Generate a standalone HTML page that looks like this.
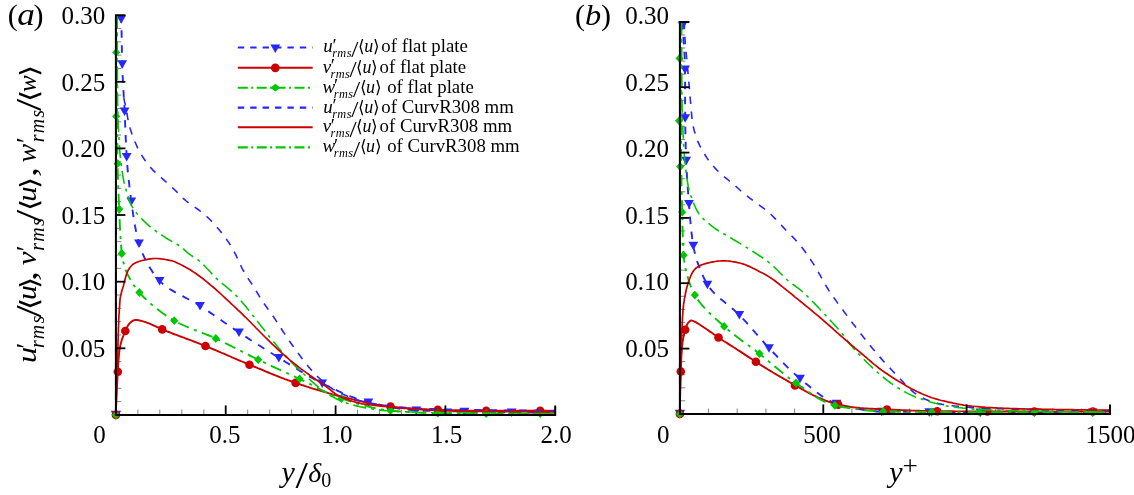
<!DOCTYPE html>
<html><head><meta charset="utf-8"><title>Figure</title>
<style>html,body{margin:0;padding:0;background:#fff;}body{width:1134px;height:495px;position:relative;overflow:hidden;font-family:"Liberation Serif",serif;}</style></head>
<body>
<svg width="1134" height="495" viewBox="0 0 1134 495" style="display:block;position:absolute;left:0;top:0">
<rect width="1134" height="495" fill="#fff"/>
<line x1="115.9" y1="401.6" x2="121.3" y2="401.6" stroke="#666" stroke-width="0.8"/>
<line x1="115.9" y1="388.3" x2="121.3" y2="388.3" stroke="#666" stroke-width="0.8"/>
<line x1="115.9" y1="374.9" x2="121.3" y2="374.9" stroke="#666" stroke-width="0.8"/>
<line x1="115.9" y1="361.6" x2="121.3" y2="361.6" stroke="#666" stroke-width="0.8"/>
<line x1="115.9" y1="335.0" x2="121.3" y2="335.0" stroke="#666" stroke-width="0.8"/>
<line x1="115.9" y1="321.6" x2="121.3" y2="321.6" stroke="#666" stroke-width="0.8"/>
<line x1="115.9" y1="308.3" x2="121.3" y2="308.3" stroke="#666" stroke-width="0.8"/>
<line x1="115.9" y1="295.0" x2="121.3" y2="295.0" stroke="#666" stroke-width="0.8"/>
<line x1="115.9" y1="268.3" x2="121.3" y2="268.3" stroke="#666" stroke-width="0.8"/>
<line x1="115.9" y1="255.0" x2="121.3" y2="255.0" stroke="#666" stroke-width="0.8"/>
<line x1="115.9" y1="241.7" x2="121.3" y2="241.7" stroke="#666" stroke-width="0.8"/>
<line x1="115.9" y1="228.4" x2="121.3" y2="228.4" stroke="#666" stroke-width="0.8"/>
<line x1="115.9" y1="201.7" x2="121.3" y2="201.7" stroke="#666" stroke-width="0.8"/>
<line x1="115.9" y1="188.4" x2="121.3" y2="188.4" stroke="#666" stroke-width="0.8"/>
<line x1="115.9" y1="175.1" x2="121.3" y2="175.1" stroke="#666" stroke-width="0.8"/>
<line x1="115.9" y1="161.8" x2="121.3" y2="161.8" stroke="#666" stroke-width="0.8"/>
<line x1="115.9" y1="135.1" x2="121.3" y2="135.1" stroke="#666" stroke-width="0.8"/>
<line x1="115.9" y1="121.8" x2="121.3" y2="121.8" stroke="#666" stroke-width="0.8"/>
<line x1="115.9" y1="108.5" x2="121.3" y2="108.5" stroke="#666" stroke-width="0.8"/>
<line x1="115.9" y1="95.1" x2="121.3" y2="95.1" stroke="#666" stroke-width="0.8"/>
<line x1="115.9" y1="68.5" x2="121.3" y2="68.5" stroke="#666" stroke-width="0.8"/>
<line x1="115.9" y1="55.2" x2="121.3" y2="55.2" stroke="#666" stroke-width="0.8"/>
<line x1="115.9" y1="41.8" x2="121.3" y2="41.8" stroke="#666" stroke-width="0.8"/>
<line x1="115.9" y1="28.5" x2="121.3" y2="28.5" stroke="#666" stroke-width="0.8"/>
<line x1="137.9" y1="414.9" x2="137.9" y2="409.5" stroke="#666" stroke-width="0.8"/>
<line x1="159.8" y1="414.9" x2="159.8" y2="409.5" stroke="#666" stroke-width="0.8"/>
<line x1="181.8" y1="414.9" x2="181.8" y2="409.5" stroke="#666" stroke-width="0.8"/>
<line x1="203.8" y1="414.9" x2="203.8" y2="409.5" stroke="#666" stroke-width="0.8"/>
<line x1="247.7" y1="414.9" x2="247.7" y2="409.5" stroke="#666" stroke-width="0.8"/>
<line x1="269.7" y1="414.9" x2="269.7" y2="409.5" stroke="#666" stroke-width="0.8"/>
<line x1="291.6" y1="414.9" x2="291.6" y2="409.5" stroke="#666" stroke-width="0.8"/>
<line x1="313.6" y1="414.9" x2="313.6" y2="409.5" stroke="#666" stroke-width="0.8"/>
<line x1="357.5" y1="414.9" x2="357.5" y2="409.5" stroke="#666" stroke-width="0.8"/>
<line x1="379.5" y1="414.9" x2="379.5" y2="409.5" stroke="#666" stroke-width="0.8"/>
<line x1="401.4" y1="414.9" x2="401.4" y2="409.5" stroke="#666" stroke-width="0.8"/>
<line x1="423.4" y1="414.9" x2="423.4" y2="409.5" stroke="#666" stroke-width="0.8"/>
<line x1="467.3" y1="414.9" x2="467.3" y2="409.5" stroke="#666" stroke-width="0.8"/>
<line x1="489.3" y1="414.9" x2="489.3" y2="409.5" stroke="#666" stroke-width="0.8"/>
<line x1="511.3" y1="414.9" x2="511.3" y2="409.5" stroke="#666" stroke-width="0.8"/>
<line x1="533.2" y1="414.9" x2="533.2" y2="409.5" stroke="#666" stroke-width="0.8"/>
<clipPath id="cl"><rect x="105.9" y="14.2" width="459.30000000000007" height="411.7"/></clipPath>
<g clip-path="url(#cl)">
<path d="M115.9,414.9 L115.9,404.7 L115.9,394.4 L115.9,384.2 L115.9,373.9 L115.9,363.7 L115.9,353.4 L115.9,343.2 L115.9,332.9 L115.9,322.7 L115.9,312.4 L115.9,302.2 L115.9,291.9 L115.9,281.7 L116.0,271.4 L116.0,261.2 L116.0,250.9 L116.0,240.7 L116.0,230.4 L116.0,220.2 L116.0,209.9 L116.0,199.7 L116.0,189.4 L116.0,179.2 L116.0,168.9 L116.0,158.7 L116.0,148.4 L116.1,138.2 L116.1,127.9 L116.1,117.7 L116.1,107.4 L116.1,97.2 L116.1,86.9 L116.1,76.7 L116.1,66.4 L116.1,56.2 L116.2,45.9 L116.2,35.7 L116.2,25.4 L116.2,15.2" fill="none" stroke="#2626ff" stroke-width="1.9" stroke-dasharray="7.5 7.5"/>
<path d="M120.9,15.2 L121.1,17.5 L121.2,19.9 L121.3,22.2 L121.4,24.6 L121.5,26.9 L121.5,29.3 L121.6,31.6 L121.6,33.9 L121.7,36.3 L121.7,38.6 L121.7,41.0 L121.8,43.3 L121.8,45.7 L121.9,48.0 L121.9,50.4 L121.9,52.7 L122.0,55.1 L122.0,57.4 L122.1,59.8 L122.1,62.1 L122.2,64.4 L122.3,66.8 L122.4,69.1 L122.5,71.5 L122.6,73.8 L122.7,76.2 L122.8,78.5 L122.9,80.8 L123.0,83.2 L123.2,85.5 L123.3,87.9 L123.4,90.2 L123.6,92.6 L123.7,94.9 L123.8,97.2 L124.0,99.6 L124.1,101.9 L124.2,104.3 L124.4,106.6 L124.5,109.0 L124.6,111.3 L124.7,113.6 L124.8,116.0 L124.9,118.3 L125.0,120.7 L125.1,123.0 L125.2,125.4 L125.3,127.7 L125.4,130.1 L125.5,132.4 L125.6,134.7 L125.7,137.1 L125.8,139.4 L125.9,141.8 L126.0,144.1 L126.1,146.5 L126.2,148.8 L126.4,151.2 L126.5,153.5 L126.6,155.8 L126.8,158.2 L127.0,160.5 L127.1,162.8 L127.3,165.2 L127.5,167.5 L127.7,169.9 L127.9,172.2 L128.2,174.5 L128.4,176.9 L128.6,179.2 L128.9,181.5 L129.2,183.9 L129.4,186.2 L129.7,188.5 L130.0,190.9 L130.3,193.2 L130.6,195.5 L130.8,197.9 L131.2,200.2 L131.5,202.5 L131.8,204.8 L132.1,207.2 L132.4,209.5 L132.8,211.9 L133.1,214.2 L133.5,216.6 L133.8,218.9 L134.2,221.3 L134.6,223.6 L135.0,225.9 L135.5,228.3 L135.9,230.6 L136.4,232.8 L136.9,235.1 L137.4,237.4 L138.0,239.6 L138.6,241.8 L139.2,244.0 L139.8,246.2 L140.6,248.4 L141.4,250.6 L142.3,252.9 L143.3,255.1 L144.3,257.3 L145.3,259.5 L146.5,261.7 L147.6,263.9 L148.8,266.0 L150.1,268.1 L151.4,270.1 L152.7,272.1 L154.1,274.0 L155.5,275.9 L156.9,277.6 L158.3,279.3 L159.7,280.9 L161.2,282.4 L162.8,283.9 L164.5,285.3 L166.3,286.6 L168.2,287.9 L170.1,289.2 L172.1,290.4 L174.1,291.6 L176.2,292.8 L178.3,293.9 L180.5,295.1 L182.7,296.2 L184.8,297.3 L187.0,298.5 L189.2,299.6 L191.4,300.7 L193.5,301.9 L195.6,303.1 L197.6,304.3 L199.6,305.6 L201.6,306.9 L203.6,308.1 L205.5,309.4 L207.5,310.8 L209.4,312.1 L211.3,313.4 L213.3,314.7 L215.2,316.1 L217.1,317.4 L219.1,318.7 L221.0,320.1 L222.9,321.4 L224.8,322.8 L226.8,324.1 L228.7,325.4 L230.6,326.8 L232.6,328.1 L234.5,329.4 L236.5,330.7 L238.4,332.0 L240.4,333.3 L242.3,334.6 L244.3,335.9 L246.3,337.1 L248.2,338.4 L250.2,339.7 L252.2,341.0 L254.1,342.2 L256.1,343.5 L258.1,344.8 L260.1,346.0 L262.1,347.3 L264.0,348.5 L266.0,349.8 L268.0,351.0 L270.0,352.3 L272.0,353.5 L274.0,354.7 L276.0,356.0 L278.0,357.2 L280.0,358.4 L282.0,359.7 L284.0,360.9 L286.0,362.2 L288.0,363.4 L290.0,364.7 L292.0,365.9 L294.0,367.2 L296.0,368.4 L298.0,369.6 L300.0,370.9 L302.0,372.1 L304.0,373.3 L306.0,374.5 L308.0,375.7 L310.1,376.9 L312.1,378.0 L314.2,379.1 L316.2,380.3 L318.3,381.3 L320.4,382.4 L322.4,383.4 L324.5,384.4 L326.7,385.5 L328.8,386.5 L330.9,387.5 L333.0,388.6 L335.2,389.6 L337.3,390.6 L339.5,391.6 L341.6,392.6 L343.8,393.5 L346.0,394.5 L348.1,395.4 L350.3,396.3 L352.5,397.1 L354.7,398.0 L356.9,398.8 L359.1,399.5 L361.4,400.2 L363.6,400.9 L365.8,401.5 L368.0,402.1 L370.3,402.7 L372.5,403.2 L374.8,403.7 L377.1,404.3 L379.4,404.8 L381.7,405.3 L384.0,405.8 L386.3,406.2 L388.6,406.7 L390.9,407.2 L393.3,407.6 L395.6,408.0 L397.9,408.4 L400.3,408.7 L402.6,409.0 L404.9,409.3 L407.3,409.6 L409.6,409.8 L411.9,410.0 L414.3,410.2 L416.6,410.3 L418.9,410.4 L421.3,410.5 L423.6,410.6 L425.9,410.7 L428.3,410.8 L430.6,410.8 L433.0,410.9 L435.3,411.0 L437.7,411.0 L440.0,411.1 L442.4,411.2 L444.7,411.2 L447.1,411.3 L449.4,411.3 L451.8,411.3 L454.1,411.4 L456.5,411.4 L458.8,411.5 L461.2,411.5 L463.5,411.6 L465.9,411.6 L468.2,411.7 L470.6,411.7 L472.9,411.8 L475.2,411.8 L477.6,411.9 L479.9,411.9 L482.3,412.0 L484.6,412.0 L487.0,412.1 L489.3,412.1 L491.7,412.1 L494.0,412.2 L496.4,412.2 L498.7,412.3 L501.0,412.3 L503.4,412.3 L505.7,412.3 L508.1,412.4 L510.4,412.4 L512.8,412.4 L515.1,412.4 L517.5,412.4 L519.8,412.5 L522.2,412.5 L524.5,412.5 L526.8,412.5 L529.2,412.5 L531.5,412.5 L533.9,412.5 L536.2,412.6 L538.6,412.6 L540.9,412.6 L543.3,412.6 L545.6,412.6 L548.0,412.6 L550.3,412.6 L552.7,412.6 L555.0,412.6" fill="none" stroke="#2626ff" stroke-width="1.9" stroke-dasharray="7.5 7.5"/>
<path d="M110.7,410.8 L121.1,410.8 L115.9,419.8Z" fill="#2626ff"/>
<path d="M116.3,15.2 L126.1,15.2 L121.2,23.7Z" fill="#2626ff"/>
<path d="M117.3,60.3 L127.1,60.3 L122.2,68.8Z" fill="#2626ff"/>
<path d="M119.7,107.4 L129.5,107.4 L124.6,115.9Z" fill="#2626ff"/>
<path d="M121.8,152.9 L131.6,152.9 L126.7,161.4Z" fill="#2626ff"/>
<path d="M126.4,197.5 L136.2,197.5 L131.3,206.0Z" fill="#2626ff"/>
<path d="M134.1,239.6 L143.9,239.6 L139.0,248.1Z" fill="#2626ff"/>
<path d="M154.7,277.0 L164.5,277.0 L159.6,285.5Z" fill="#2626ff"/>
<path d="M195.1,302.0 L204.9,302.0 L200.0,310.5Z" fill="#2626ff"/>
<path d="M234.1,328.6 L243.9,328.6 L239.0,337.1Z" fill="#2626ff"/>
<path d="M273.9,353.9 L283.7,353.9 L278.8,362.4Z" fill="#2626ff"/>
<path d="M317.3,379.5 L327.1,379.5 L322.2,388.0Z" fill="#2626ff"/>
<path d="M363.5,398.4 L373.3,398.4 L368.4,406.9Z" fill="#2626ff"/>
<path d="M411.4,406.5 L421.2,406.5 L416.3,415.0Z" fill="#2626ff"/>
<path d="M459.6,407.8 L469.4,407.8 L464.5,416.3Z" fill="#2626ff"/>
<path d="M506.8,408.6 L516.6,408.6 L511.7,417.1Z" fill="#2626ff"/>
<path d="M115.9,414.9 L115.9,413.1 L116.0,411.3 L116.0,409.5 L116.1,407.7 L116.1,405.9 L116.2,404.2 L116.3,402.4 L116.3,400.6 L116.4,398.8 L116.5,397.0 L116.6,395.2 L116.7,393.4 L116.7,391.6 L116.8,389.9 L116.9,388.1 L117.0,386.3 L117.1,384.5 L117.2,382.7 L117.3,380.9 L117.4,379.1 L117.5,377.3 L117.6,375.6 L117.7,373.8 L117.8,372.0 L117.9,370.2 L118.0,368.4 L118.1,366.6 L118.2,364.8 L118.3,363.0 L118.4,361.2 L118.6,359.4 L118.7,357.6 L118.9,355.9 L119.0,354.1 L119.2,352.3 L119.4,350.6 L119.7,348.8 L120.0,347.1 L120.4,345.3 L120.8,343.6 L121.3,341.8 L121.8,340.1 L122.4,338.4 L123.0,336.7 L123.7,335.0 L124.3,333.3 L125.0,331.7 L125.7,330.0 L126.5,328.4 L127.3,326.7 L128.3,325.1 L129.3,323.7 L130.5,322.5 L132.0,321.3 L133.6,320.4 L135.3,319.9 L136.9,320.0 L138.7,320.3 L140.5,320.7 L142.3,321.2 L144.0,321.7 L145.7,322.2 L147.4,322.8 L149.1,323.4 L150.7,324.1 L152.4,324.8 L154.0,325.6 L155.6,326.4 L157.2,327.2 L158.9,327.9 L160.5,328.7 L162.2,329.4 L163.8,330.1 L165.5,330.7 L167.1,331.4 L168.8,332.0 L170.5,332.7 L172.1,333.3 L173.8,334.0 L175.5,334.6 L177.2,335.2 L178.8,335.9 L180.5,336.5 L182.2,337.1 L183.9,337.7 L185.5,338.4 L187.2,339.0 L188.9,339.6 L190.6,340.2 L192.3,340.9 L193.9,341.5 L195.6,342.1 L197.3,342.8 L198.9,343.4 L200.6,344.1 L202.3,344.7 L203.9,345.4 L205.6,346.0 L207.3,346.7 L208.9,347.4 L210.6,348.1 L212.2,348.8 L213.9,349.5 L215.5,350.2 L217.2,350.9 L218.8,351.6 L220.5,352.3 L222.1,353.0 L223.8,353.7 L225.4,354.4 L227.0,355.1 L228.7,355.8 L230.3,356.5 L232.0,357.3 L233.6,358.0 L235.2,358.7 L236.9,359.4 L238.5,360.1 L240.2,360.8 L241.8,361.5 L243.5,362.2 L245.1,362.9 L246.8,363.6 L248.4,364.3 L250.1,364.9 L251.7,365.6 L253.4,366.3 L255.1,367.0 L256.7,367.7 L258.4,368.4 L260.0,369.0 L261.7,369.7 L263.3,370.4 L265.0,371.1 L266.6,371.8 L268.3,372.5 L270.0,373.2 L271.6,373.8 L273.3,374.5 L274.9,375.2 L276.6,375.8 L278.3,376.5 L279.9,377.1 L281.6,377.8 L283.3,378.4 L285.0,379.1 L286.6,379.7 L288.3,380.3 L290.0,380.9 L291.7,381.5 L293.4,382.1 L295.0,382.7 L296.7,383.3 L298.4,383.9 L300.1,384.4 L301.8,385.0 L303.5,385.5 L305.2,386.1 L306.9,386.7 L308.6,387.2 L310.3,387.8 L312.0,388.3 L313.7,388.8 L315.5,389.4 L317.2,389.9 L318.9,390.4 L320.6,390.9 L322.3,391.4 L324.1,391.9 L325.8,392.4 L327.5,392.9 L329.2,393.4 L330.9,393.9 L332.7,394.4 L334.4,394.8 L336.1,395.3 L337.9,395.7 L339.6,396.2 L341.3,396.6 L343.1,397.0 L344.8,397.4 L346.5,397.9 L348.3,398.3 L350.0,398.7 L351.8,399.1 L353.5,399.6 L355.3,400.0 L357.0,400.4 L358.8,400.8 L360.5,401.2 L362.3,401.6 L364.0,402.0 L365.8,402.4 L367.5,402.8 L369.3,403.2 L371.0,403.5 L372.8,403.9 L374.5,404.2 L376.3,404.6 L378.1,404.9 L379.8,405.2 L381.6,405.4 L383.4,405.7 L385.1,406.0 L386.9,406.2 L388.7,406.4 L390.4,406.6 L392.2,406.8 L394.0,406.9 L395.8,407.1 L397.5,407.3 L399.3,407.4 L401.1,407.6 L402.9,407.8 L404.7,407.9 L406.4,408.1 L408.2,408.2 L410.0,408.3 L411.8,408.5 L413.6,408.6 L415.4,408.7 L417.2,408.8 L419.0,408.9 L420.8,409.0 L422.6,409.1 L424.3,409.2 L426.1,409.3 L427.9,409.4 L429.7,409.5 L431.5,409.6 L433.3,409.6 L435.1,409.7 L436.9,409.8 L438.7,409.8 L440.4,409.9 L442.2,409.9 L444.0,410.0 L445.8,410.0 L447.6,410.1 L449.4,410.1 L451.2,410.2 L453.0,410.2 L454.8,410.3 L456.6,410.3 L458.3,410.3 L460.1,410.4 L461.9,410.4 L463.7,410.5 L465.5,410.5 L467.3,410.5 L469.1,410.6 L470.9,410.6 L472.7,410.6 L474.5,410.6 L476.2,410.6 L478.0,410.7 L479.8,410.7 L481.6,410.7 L483.4,410.7 L485.2,410.7 L487.0,410.7 L488.8,410.7 L490.6,410.7 L492.4,410.7 L494.1,410.7 L495.9,410.7 L497.7,410.7 L499.5,410.7 L501.3,410.7 L503.1,410.7 L504.9,410.7 L506.7,410.7 L508.5,410.7 L510.3,410.7 L512.0,410.7 L513.8,410.7 L515.6,410.7 L517.4,410.7 L519.2,410.7 L521.0,410.7 L522.8,410.7 L524.6,410.7 L526.4,410.7 L528.2,410.7 L529.9,410.7 L531.7,410.7 L533.5,410.7 L535.3,410.7 L537.1,410.7 L538.9,410.7 L540.7,410.7 L542.5,410.7 L544.3,410.7 L546.1,410.8 L547.8,410.8 L549.6,410.9 L551.4,410.9 L553.2,411.0 L555.0,411.0" fill="none" stroke="#cc0000" stroke-width="1.9"/>
<circle cx="115.9" cy="414.9" r="4.3" fill="#cc0000"/>
<circle cx="117.8" cy="371.8" r="4.3" fill="#cc0000"/>
<circle cx="125.3" cy="331.0" r="4.3" fill="#cc0000"/>
<circle cx="162.2" cy="329.4" r="4.3" fill="#cc0000"/>
<circle cx="205.5" cy="346.0" r="4.3" fill="#cc0000"/>
<circle cx="249.5" cy="364.7" r="4.3" fill="#cc0000"/>
<circle cx="295.6" cy="382.9" r="4.3" fill="#cc0000"/>
<circle cx="390.5" cy="406.6" r="4.3" fill="#cc0000"/>
<circle cx="437.8" cy="409.8" r="4.3" fill="#cc0000"/>
<circle cx="486.2" cy="410.7" r="4.3" fill="#cc0000"/>
<circle cx="540.2" cy="410.7" r="4.3" fill="#cc0000"/>
<path d="M116.9,15.2 L116.9,17.6 L116.9,20.1 L116.9,22.5 L116.9,24.9 L116.9,27.3 L116.9,29.8 L116.9,32.2 L116.9,34.6 L116.9,37.1 L116.9,39.5 L116.9,41.9 L116.9,44.3 L116.9,46.8 L116.9,49.2 L116.9,51.6 L116.9,54.1 L116.9,56.5 L116.9,58.9 L116.9,61.3 L116.9,63.8 L116.9,66.2 L116.9,68.6 L116.9,71.1 L116.9,73.5 L117.0,75.9 L117.0,78.3 L117.0,80.8 L117.0,83.2 L117.0,85.6 L117.0,88.1 L117.0,90.5 L117.0,92.9 L117.0,95.3 L117.0,97.8 L117.0,100.2 L117.0,102.6 L117.0,105.1 L117.0,107.5 L117.0,109.9 L117.0,112.3 L117.1,114.8 L117.1,117.2 L117.1,119.6 L117.1,122.1 L117.1,124.5 L117.1,126.9 L117.2,129.3 L117.2,131.8 L117.2,134.2 L117.2,136.6 L117.3,139.1 L117.3,141.5 L117.3,143.9 L117.4,146.3 L117.4,148.8 L117.4,151.2 L117.4,153.6 L117.5,156.1 L117.5,158.5 L117.6,160.9 L117.6,163.3 L117.6,165.8 L117.7,168.2 L117.7,170.6 L117.8,173.1 L117.9,175.5 L117.9,177.9 L118.0,180.3 L118.1,182.8 L118.2,185.2 L118.3,187.6 L118.4,190.0 L118.5,192.5 L118.6,194.9 L118.7,197.3 L118.8,199.7 L118.9,202.2 L119.0,204.6 L119.1,207.0 L119.2,209.5 L119.3,211.9 L119.4,214.3 L119.5,216.7 L119.6,219.2 L119.7,221.6 L119.8,224.0 L119.9,226.5 L120.1,228.9 L120.2,231.3 L120.3,233.8 L120.4,236.2 L120.6,238.6 L120.8,241.1 L120.9,243.5 L121.1,245.9 L121.3,248.3 L121.5,250.7 L121.8,253.1 L122.0,255.5 L122.4,257.9 L122.9,260.3 L123.5,262.7 L124.1,265.0 L124.8,267.4 L125.5,269.6 L126.4,271.9 L127.5,274.1 L128.6,276.3 L129.8,278.4 L131.0,280.5 L132.3,282.6 L133.5,284.7 L134.9,286.7 L136.3,288.7 L137.8,290.6 L139.4,292.5 L141.0,294.2 L142.6,296.0 L144.3,297.7 L146.1,299.4 L147.8,301.1 L149.6,302.7 L151.5,304.4 L153.4,306.0 L155.3,307.5 L157.2,309.1 L159.2,310.6 L161.1,312.1 L163.1,313.5 L165.1,314.9 L167.2,316.3 L169.2,317.6 L171.2,318.9 L173.3,320.1 L175.3,321.3 L177.4,322.4 L179.5,323.5 L181.7,324.5 L183.9,325.5 L186.1,326.5 L188.3,327.4 L190.6,328.4 L192.9,329.3 L195.2,330.2 L197.4,331.0 L199.7,331.9 L202.0,332.8 L204.3,333.7 L206.6,334.6 L208.9,335.5 L211.1,336.4 L213.4,337.4 L215.6,338.4 L217.8,339.4 L220.0,340.5 L222.2,341.5 L224.4,342.6 L226.5,343.7 L228.7,344.8 L230.9,345.9 L233.0,347.0 L235.2,348.1 L237.4,349.2 L239.5,350.3 L241.7,351.4 L243.8,352.5 L246.0,353.6 L248.2,354.7 L250.3,355.8 L252.5,356.9 L254.7,358.0 L256.9,359.1 L259.1,360.1 L261.2,361.2 L263.4,362.2 L265.6,363.2 L267.8,364.3 L270.0,365.3 L272.2,366.3 L274.4,367.3 L276.6,368.3 L278.9,369.4 L281.1,370.4 L283.3,371.4 L285.5,372.4 L287.7,373.4 L289.9,374.4 L292.1,375.4 L294.3,376.4 L296.5,377.5 L298.7,378.5 L300.9,379.5 L303.1,380.6 L305.3,381.7 L307.5,382.8 L309.7,383.9 L311.8,385.0 L314.0,386.1 L316.2,387.2 L318.3,388.4 L320.5,389.5 L322.7,390.6 L324.9,391.6 L327.1,392.7 L329.3,393.7 L331.5,394.7 L333.7,395.6 L336.0,396.5 L338.2,397.4 L340.5,398.2 L342.7,398.9 L345.0,399.7 L347.3,400.4 L349.6,401.2 L352.0,401.9 L354.3,402.6 L356.6,403.4 L359.0,404.1 L361.3,404.7 L363.7,405.4 L366.1,406.0 L368.4,406.7 L370.8,407.2 L373.2,407.8 L375.6,408.3 L378.0,408.8 L380.4,409.2 L382.8,409.6 L385.2,410.0 L387.5,410.3 L389.9,410.5 L392.3,410.8 L394.7,411.0 L397.1,411.2 L399.5,411.4 L402.0,411.6 L404.4,411.7 L406.8,411.9 L409.2,412.1 L411.7,412.2 L414.1,412.4 L416.5,412.5 L419.0,412.6 L421.4,412.7 L423.8,412.8 L426.3,412.9 L428.7,413.0 L431.1,413.1 L433.6,413.1 L436.0,413.2 L438.4,413.2 L440.9,413.2 L443.3,413.3 L445.7,413.3 L448.1,413.3 L450.6,413.3 L453.0,413.3 L455.4,413.4 L457.9,413.4 L460.3,413.4 L462.7,413.4 L465.1,413.4 L467.6,413.4 L470.0,413.4 L472.4,413.5 L474.9,413.5 L477.3,413.5 L479.7,413.5 L482.1,413.5 L484.6,413.5 L487.0,413.5 L489.4,413.5 L491.9,413.5 L494.3,413.5 L496.7,413.5 L499.1,413.5 L501.6,413.5 L504.0,413.5 L506.4,413.5 L508.9,413.6 L511.3,413.6 L513.7,413.6 L516.1,413.6 L518.6,413.6 L521.0,413.6 L523.4,413.6 L525.9,413.6 L528.3,413.6 L530.7,413.6 L533.1,413.6 L535.6,413.6 L538.0,413.6 L540.4,413.6 L542.9,413.6 L545.3,413.6 L547.7,413.6 L550.1,413.6 L552.6,413.6 L555.0,413.6" fill="none" stroke="#00c800" stroke-width="1.9" stroke-dasharray="11.5 5.5 3 5.5"/>
<path d="M111.8,414.9 L115.9,410.5 L120.0,414.9 L115.9,419.3Z" fill="#00c800"/>
<path d="M112.1,52.4 L116.2,48.0 L120.3,52.4 L116.2,56.8Z" fill="#00c800"/>
<path d="M112.1,116.3 L116.2,111.9 L120.3,116.3 L116.2,120.7Z" fill="#00c800"/>
<path d="M113.5,163.7 L117.6,159.3 L121.7,163.7 L117.6,168.1Z" fill="#00c800"/>
<path d="M115.1,209.1 L119.2,204.7 L123.3,209.1 L119.2,213.5Z" fill="#00c800"/>
<path d="M117.7,253.5 L121.8,249.1 L125.9,253.5 L121.8,257.9Z" fill="#00c800"/>
<path d="M135.3,292.5 L139.4,288.1 L143.5,292.5 L139.4,296.9Z" fill="#00c800"/>
<path d="M170.2,320.7 L174.3,316.3 L178.4,320.7 L174.3,325.1Z" fill="#00c800"/>
<path d="M211.7,338.5 L215.8,334.1 L219.9,338.5 L215.8,342.9Z" fill="#00c800"/>
<path d="M254.1,359.7 L258.2,355.3 L262.3,359.7 L258.2,364.1Z" fill="#00c800"/>
<path d="M295.5,378.9 L299.6,374.5 L303.7,378.9 L299.6,383.3Z" fill="#00c800"/>
<path d="M337.3,398.5 L341.4,394.1 L345.5,398.5 L341.4,402.9Z" fill="#00c800"/>
<path d="M386.4,410.6 L390.5,406.2 L394.6,410.6 L390.5,415.0Z" fill="#00c800"/>
<path d="M433.7,413.2 L437.8,408.8 L441.9,413.2 L437.8,417.6Z" fill="#00c800"/>
<path d="M482.1,413.5 L486.2,409.1 L490.3,413.5 L486.2,417.9Z" fill="#00c800"/>
<path d="M536.1,413.6 L540.2,409.2 L544.3,413.6 L540.2,418.0Z" fill="#00c800"/>
<path d="M123.8,98.0 L124.2,99.9 L124.6,101.9 L125.1,103.8 L125.5,105.7 L125.8,107.7 L126.2,109.6 L126.6,111.5 L126.9,113.5 L127.3,115.4 L127.6,117.4 L128.0,119.3 L128.4,121.2 L128.8,123.2 L129.3,125.1 L129.8,127.0 L130.3,128.9 L130.9,130.8 L131.5,132.7 L132.1,134.5 L132.8,136.4 L133.5,138.3 L134.2,140.1 L135.0,141.9 L135.8,143.7 L136.6,145.5 L137.4,147.3 L138.3,149.1 L139.2,150.8 L140.2,152.6 L141.2,154.3 L142.2,156.0 L143.2,157.6 L144.3,159.3 L145.4,160.9 L146.6,162.5 L147.8,164.1 L149.0,165.7 L150.3,167.2 L151.6,168.6 L152.9,170.1 L154.3,171.4 L155.8,172.8 L157.3,174.1 L158.8,175.4 L160.3,176.7 L161.7,178.0 L163.2,179.4 L164.6,180.7 L166.1,182.0 L167.6,183.3 L169.1,184.6 L170.5,186.0 L172.0,187.3 L173.4,188.6 L174.9,190.0 L176.3,191.4 L177.7,192.8 L179.0,194.2 L180.4,195.7 L181.8,197.0 L183.2,198.4 L184.7,199.7 L186.2,201.0 L187.7,202.2 L189.3,203.4 L191.0,204.5 L192.6,205.6 L194.2,206.8 L195.8,207.9 L197.4,209.0 L199.0,210.2 L200.6,211.5 L202.1,212.7 L203.7,213.9 L205.2,215.2 L206.7,216.5 L208.2,217.8 L209.6,219.2 L210.9,220.5 L212.3,222.0 L213.6,223.4 L215.0,224.9 L216.3,226.4 L217.6,227.9 L218.9,229.4 L220.2,230.9 L221.4,232.5 L222.6,234.0 L223.9,235.6 L225.0,237.2 L226.2,238.8 L227.3,240.5 L228.5,242.1 L229.5,243.7 L230.6,245.4 L231.6,247.0 L232.6,248.7 L233.5,250.4 L234.4,252.2 L235.3,253.9 L236.2,255.7 L237.0,257.5 L237.8,259.3 L238.7,261.1 L239.5,262.9 L240.3,264.7 L241.2,266.5 L242.1,268.3 L243.0,270.0 L244.0,271.7 L245.0,273.4 L246.0,275.1 L247.1,276.8 L248.1,278.5 L249.2,280.1 L250.3,281.8 L251.4,283.4 L252.5,285.1 L253.5,286.7 L254.6,288.4 L255.6,290.1 L256.7,291.8 L257.7,293.5 L258.7,295.2 L259.7,296.9 L260.7,298.6 L261.7,300.2 L262.8,301.9 L264.0,303.5 L265.1,305.1 L266.3,306.7 L267.4,308.3 L268.6,309.9 L269.8,311.5 L270.9,313.1 L272.0,314.7 L273.2,316.3 L274.3,318.0 L275.4,319.6 L276.5,321.3 L277.5,322.9 L278.6,324.6 L279.7,326.2 L280.8,327.9 L281.8,329.5 L282.9,331.2 L284.0,332.9 L285.1,334.5 L286.2,336.2 L287.3,337.8 L288.4,339.4 L289.5,341.1 L290.6,342.7 L291.7,344.3 L292.9,345.9 L294.0,347.5 L295.2,349.1 L296.4,350.7 L297.5,352.3 L298.7,353.9 L299.9,355.5 L301.0,357.1 L302.2,358.7 L303.4,360.3 L304.6,361.8 L305.9,363.4 L307.1,364.9 L308.3,366.4 L309.6,367.9 L310.9,369.4 L312.2,370.9 L313.5,372.4 L314.9,373.8 L316.2,375.2 L317.6,376.6 L319.1,378.0 L320.5,379.4 L322.0,380.7 L323.4,382.0 L325.0,383.3 L326.5,384.5 L328.1,385.8 L329.6,386.9 L331.3,388.0 L332.9,389.1 L334.6,390.0 L336.4,391.0 L338.1,391.9 L339.9,392.8 L341.7,393.6 L343.5,394.4 L345.3,395.2 L347.1,396.0 L349.0,396.7 L350.8,397.5 L352.7,398.2 L354.5,398.9 L356.4,399.5 L358.3,400.2 L360.2,400.7 L362.0,401.2 L363.9,401.7 L365.9,402.1 L367.8,402.5 L369.7,402.9 L371.7,403.3 L373.6,403.6 L375.6,404.0 L377.5,404.3 L379.5,404.6 L381.4,404.9 L383.4,405.2 L385.4,405.4 L387.3,405.7 L389.3,405.9 L391.2,406.1 L393.2,406.4 L395.2,406.6 L397.1,406.8 L399.1,407.0 L401.1,407.2 L403.0,407.3 L405.0,407.5 L407.0,407.7 L408.9,407.8 L410.9,408.0 L412.9,408.1 L414.8,408.2 L416.8,408.4 L418.8,408.4 L420.8,408.5 L422.7,408.6 L424.7,408.7 L426.7,408.7 L428.6,408.8 L430.6,408.9 L432.6,408.9 L434.6,409.0 L436.5,409.0 L438.5,409.1 L440.5,409.1 L442.5,409.2 L444.4,409.2 L446.4,409.3 L448.4,409.3 L450.4,409.3 L452.3,409.4 L454.3,409.4 L456.3,409.4 L458.3,409.5 L460.2,409.5 L462.2,409.5 L464.2,409.6 L466.2,409.6 L468.1,409.6 L470.1,409.7 L472.1,409.7 L474.1,409.7 L476.0,409.7 L478.0,409.8 L480.0,409.8 L482.0,409.8 L483.9,409.9 L485.9,409.9 L487.9,409.9 L489.8,410.0 L491.8,410.0 L493.8,410.0 L495.8,410.0 L497.7,410.1 L499.7,410.1 L501.7,410.1 L503.7,410.1 L505.6,410.2 L507.6,410.2 L509.6,410.2 L511.6,410.2 L513.5,410.3 L515.5,410.3 L517.5,410.3 L519.5,410.3 L521.4,410.3 L523.4,410.3 L525.4,410.4 L527.4,410.4 L529.3,410.4 L531.3,410.4 L533.3,410.4 L535.3,410.4 L537.2,410.4 L539.2,410.5 L541.2,410.5 L543.2,410.5 L545.1,410.5 L547.1,410.5 L549.1,410.5 L551.1,410.5 L553.0,410.5 L555.0,410.5" fill="none" stroke="#2626ff" stroke-width="1.6" stroke-dasharray="7.5 7.5"/>
<path d="M117.2,15.2 L117.2,17.5 L117.2,19.9 L117.2,22.2 L117.2,24.5 L117.2,26.8 L117.2,29.2 L117.2,31.5 L117.2,33.8 L117.2,36.2 L117.2,38.5 L117.2,40.8 L117.2,43.1 L117.3,45.5 L117.3,47.8 L117.3,50.1 L117.3,52.4 L117.3,54.8 L117.3,57.1 L117.3,59.4 L117.3,61.8 L117.3,64.1 L117.3,66.4 L117.4,68.7 L117.4,71.1 L117.4,73.4 L117.4,75.7 L117.4,78.0 L117.4,80.4 L117.5,82.7 L117.5,85.0 L117.5,87.3 L117.5,89.7 L117.5,92.0 L117.5,94.3 L117.6,96.7 L117.6,99.0 L117.6,101.3 L117.6,103.6 L117.7,106.0 L117.7,108.3 L117.8,110.6 L117.9,112.9 L117.9,115.3 L118.0,117.6 L118.1,119.9 L118.2,122.2 L118.3,124.6 L118.4,126.9 L118.5,129.2 L118.6,131.6 L118.8,133.9 L118.9,136.2 L119.0,138.5 L119.2,140.8 L119.3,143.2 L119.4,145.5 L119.6,147.8 L119.7,150.1 L119.9,152.4 L120.1,154.8 L120.4,157.1 L120.6,159.4 L120.9,161.7 L121.2,164.0 L121.5,166.3 L121.8,168.7 L122.1,171.0 L122.5,173.3 L122.8,175.6 L123.2,177.8 L123.6,180.1 L124.1,182.4 L124.7,184.7 L125.3,186.9 L125.9,189.2 L126.5,191.4 L127.1,193.7 L127.8,195.9 L128.5,198.1 L129.3,200.3 L130.1,202.5 L131.0,204.6 L132.1,206.7 L133.3,208.6 L134.6,210.5 L136.1,212.4 L137.5,214.2 L139.1,216.0 L140.7,217.7 L142.3,219.4 L144.0,221.1 L145.7,222.7 L147.4,224.3 L149.1,225.8 L150.8,227.3 L152.6,228.7 L154.5,230.1 L156.4,231.5 L158.3,232.8 L160.2,234.2 L162.2,235.4 L164.2,236.7 L166.1,238.0 L168.1,239.2 L170.1,240.4 L172.1,241.6 L174.2,242.7 L176.2,243.8 L178.2,245.0 L180.2,246.3 L182.0,247.7 L183.7,249.2 L185.5,250.8 L187.2,252.4 L189.0,253.8 L190.9,255.2 L192.8,256.5 L194.8,257.7 L196.8,259.0 L198.7,260.3 L200.4,261.8 L202.1,263.4 L203.8,265.1 L205.4,266.8 L207.0,268.5 L208.6,270.1 L210.2,271.8 L211.7,273.6 L213.3,275.3 L214.9,277.0 L216.6,278.6 L218.3,280.2 L220.0,281.7 L221.8,283.2 L223.6,284.6 L225.5,286.1 L227.3,287.6 L229.1,289.0 L230.8,290.6 L232.5,292.2 L234.2,293.8 L235.9,295.4 L237.5,297.0 L239.1,298.7 L240.7,300.4 L242.2,302.2 L243.7,304.0 L245.2,305.8 L246.6,307.6 L248.1,309.4 L249.5,311.3 L251.0,313.1 L252.4,314.9 L253.9,316.7 L255.3,318.6 L256.7,320.4 L258.2,322.2 L259.6,324.1 L261.0,325.9 L262.5,327.7 L263.9,329.6 L265.3,331.4 L266.7,333.3 L268.2,335.1 L269.6,336.9 L271.1,338.7 L272.5,340.5 L274.0,342.3 L275.5,344.1 L277.0,345.9 L278.5,347.7 L280.0,349.4 L281.5,351.2 L283.1,353.0 L284.6,354.7 L286.2,356.4 L287.7,358.2 L289.3,359.9 L290.9,361.6 L292.5,363.3 L294.1,364.9 L295.8,366.6 L297.4,368.2 L299.1,369.8 L300.8,371.4 L302.5,373.0 L304.3,374.5 L306.0,376.1 L307.7,377.7 L309.4,379.2 L311.2,380.8 L312.9,382.4 L314.7,383.9 L316.4,385.4 L318.2,386.9 L320.1,388.3 L321.9,389.7 L323.8,391.1 L325.7,392.4 L327.7,393.7 L329.6,395.0 L331.6,396.2 L333.7,397.4 L335.7,398.5 L337.8,399.5 L339.9,400.4 L342.0,401.3 L344.2,402.1 L346.4,402.9 L348.6,403.7 L350.9,404.4 L353.1,405.0 L355.3,405.6 L357.6,406.1 L359.9,406.7 L362.1,407.1 L364.4,407.6 L366.7,408.0 L369.0,408.4 L371.3,408.8 L373.6,409.1 L375.9,409.5 L378.2,409.8 L380.5,410.1 L382.9,410.4 L385.2,410.6 L387.5,410.8 L389.8,411.0 L392.1,411.1 L394.4,411.3 L396.8,411.4 L399.1,411.5 L401.4,411.6 L403.7,411.7 L406.1,411.8 L408.4,411.9 L410.7,412.0 L413.0,412.1 L415.4,412.2 L417.7,412.3 L420.0,412.3 L422.4,412.4 L424.7,412.4 L427.0,412.5 L429.3,412.5 L431.7,412.5 L434.0,412.5 L436.3,412.6 L438.6,412.6 L441.0,412.6 L443.3,412.6 L445.6,412.6 L447.9,412.6 L450.3,412.7 L452.6,412.7 L454.9,412.7 L457.3,412.7 L459.6,412.7 L461.9,412.7 L464.2,412.7 L466.6,412.8 L468.9,412.8 L471.2,412.8 L473.5,412.8 L475.9,412.8 L478.2,412.8 L480.5,412.8 L482.8,412.8 L485.2,412.9 L487.5,412.9 L489.8,412.9 L492.2,412.9 L494.5,412.9 L496.8,412.9 L499.1,412.9 L501.5,412.9 L503.8,412.9 L506.1,412.9 L508.4,412.9 L510.8,412.9 L513.1,412.9 L515.4,413.0 L517.8,413.0 L520.1,413.0 L522.4,413.0 L524.7,413.0 L527.1,413.0 L529.4,413.0 L531.7,413.0 L534.0,413.0 L536.4,413.0 L538.7,413.0 L541.0,413.0 L543.4,413.0 L545.7,413.0 L548.0,413.0 L550.3,413.0 L552.7,413.0 L555.0,413.0" fill="none" stroke="#00c800" stroke-width="1.6" stroke-dasharray="13 5 3 5"/>
<path d="M115.9,414.9 L115.9,412.8 L116.0,410.7 L116.1,408.6 L116.1,406.5 L116.2,404.4 L116.2,402.3 L116.3,400.2 L116.3,398.1 L116.4,396.0 L116.4,393.9 L116.5,391.8 L116.6,389.7 L116.6,387.7 L116.7,385.6 L116.7,383.5 L116.8,381.4 L116.9,379.3 L116.9,377.2 L117.0,375.1 L117.1,373.0 L117.1,370.9 L117.2,368.8 L117.3,366.7 L117.3,364.6 L117.4,362.5 L117.5,360.4 L117.6,358.3 L117.6,356.2 L117.7,354.1 L117.8,352.0 L117.8,349.9 L117.9,347.8 L117.9,345.7 L118.0,343.6 L118.0,341.5 L118.1,339.4 L118.2,337.3 L118.2,335.2 L118.3,333.1 L118.4,331.0 L118.4,328.9 L118.5,326.8 L118.6,324.7 L118.7,322.6 L118.7,320.5 L118.8,318.4 L118.9,316.3 L119.0,314.2 L119.2,312.1 L119.3,310.0 L119.4,307.9 L119.6,305.9 L119.7,303.8 L119.9,301.7 L120.0,299.7 L120.3,297.6 L120.7,295.6 L121.2,293.5 L121.7,291.5 L122.3,289.4 L122.9,287.4 L123.5,285.4 L124.0,283.4 L124.6,281.3 L125.1,279.2 L125.7,277.1 L126.3,275.1 L126.9,273.1 L127.7,271.2 L128.6,269.5 L129.8,267.7 L131.2,266.0 L132.8,264.5 L134.4,263.4 L136.2,262.5 L138.2,261.7 L140.2,261.0 L142.3,260.5 L144.3,260.0 L146.4,259.6 L148.5,259.2 L150.6,258.9 L152.7,258.6 L154.7,258.5 L156.8,258.5 L158.9,258.6 L161.0,258.9 L163.1,259.1 L165.2,259.5 L167.3,259.9 L169.3,260.3 L171.3,260.7 L173.3,261.3 L175.3,262.0 L177.2,262.9 L179.1,263.8 L181.0,264.7 L182.9,265.7 L184.8,266.7 L186.6,267.7 L188.4,268.7 L190.2,269.8 L192.0,271.0 L193.7,272.1 L195.5,273.3 L197.2,274.5 L198.9,275.7 L200.6,277.0 L202.3,278.2 L203.9,279.5 L205.6,280.8 L207.2,282.1 L208.8,283.5 L210.4,284.8 L212.0,286.2 L213.6,287.5 L215.2,288.9 L216.8,290.3 L218.3,291.7 L219.9,293.1 L221.4,294.5 L223.0,296.0 L224.5,297.4 L226.0,298.8 L227.6,300.3 L229.1,301.7 L230.6,303.1 L232.2,304.5 L233.7,306.0 L235.3,307.4 L236.8,308.8 L238.3,310.3 L239.8,311.7 L241.3,313.1 L242.9,314.6 L244.3,316.1 L245.8,317.5 L247.3,319.0 L248.8,320.5 L250.3,322.0 L251.7,323.5 L253.2,325.0 L254.7,326.5 L256.1,328.0 L257.6,329.5 L259.1,331.0 L260.5,332.5 L262.0,334.0 L263.5,335.5 L265.0,337.0 L266.5,338.4 L268.0,339.9 L269.5,341.4 L271.0,342.8 L272.5,344.3 L274.0,345.7 L275.6,347.1 L277.1,348.6 L278.6,350.0 L280.2,351.4 L281.7,352.8 L283.3,354.3 L284.8,355.6 L286.4,357.0 L288.0,358.4 L289.6,359.8 L291.2,361.1 L292.8,362.4 L294.4,363.7 L296.1,365.0 L297.7,366.3 L299.4,367.6 L301.1,368.9 L302.8,370.1 L304.5,371.4 L306.2,372.6 L307.9,373.8 L309.6,375.1 L311.3,376.3 L313.0,377.5 L314.7,378.7 L316.4,379.9 L318.1,381.1 L319.8,382.3 L321.6,383.5 L323.3,384.7 L325.0,385.9 L326.7,387.1 L328.4,388.3 L330.1,389.6 L331.8,391.0 L333.4,392.3 L335.1,393.6 L336.8,394.7 L338.6,395.7 L340.4,396.6 L342.3,397.5 L344.2,398.3 L346.2,399.1 L348.2,399.8 L350.2,400.5 L352.2,401.2 L354.2,401.8 L356.3,402.4 L358.3,402.9 L360.4,403.4 L362.4,403.8 L364.5,404.1 L366.5,404.4 L368.6,404.7 L370.7,405.0 L372.7,405.2 L374.8,405.5 L376.9,405.7 L379.0,405.9 L381.1,406.1 L383.2,406.3 L385.3,406.5 L387.4,406.7 L389.5,406.9 L391.6,407.1 L393.7,407.3 L395.8,407.6 L397.9,407.8 L399.9,408.0 L402.0,408.2 L404.1,408.4 L406.2,408.5 L408.3,408.7 L410.4,408.9 L412.5,409.1 L414.6,409.2 L416.7,409.3 L418.8,409.5 L420.8,409.6 L422.9,409.7 L425.0,409.8 L427.1,409.9 L429.2,410.0 L431.3,410.1 L433.4,410.2 L435.5,410.3 L437.6,410.4 L439.7,410.5 L441.8,410.6 L443.9,410.7 L446.0,410.8 L448.1,410.8 L450.2,410.9 L452.3,411.0 L454.4,411.0 L456.5,411.0 L458.6,411.1 L460.7,411.1 L462.7,411.1 L464.8,411.2 L466.9,411.2 L469.0,411.2 L471.1,411.2 L473.2,411.3 L475.3,411.3 L477.4,411.3 L479.5,411.3 L481.6,411.4 L483.7,411.4 L485.8,411.4 L487.9,411.4 L490.0,411.5 L492.1,411.5 L494.2,411.5 L496.3,411.5 L498.4,411.5 L500.5,411.6 L502.6,411.6 L504.7,411.6 L506.8,411.6 L508.9,411.6 L511.0,411.6 L513.1,411.7 L515.2,411.7 L517.2,411.7 L519.3,411.7 L521.4,411.7 L523.5,411.7 L525.6,411.7 L527.7,411.7 L529.8,411.7 L531.9,411.8 L534.0,411.8 L536.1,411.8 L538.2,411.8 L540.3,411.8 L542.4,411.8 L544.5,411.8 L546.6,411.8 L548.7,411.8 L550.8,411.8 L552.9,411.8 L555.0,411.8" fill="none" stroke="#cc0000" stroke-width="1.7"/>
</g>
<path d="M125.4,15.2 L115.9,15.2 L115.9,414.9 L555.2,414.9 L555.2,405.4" fill="none" stroke="#000" stroke-width="2" stroke-linejoin="miter"/>
<line x1="115.9" y1="348.3" x2="125.4" y2="348.3" stroke="#000" stroke-width="1.8"/>
<line x1="115.9" y1="281.7" x2="125.4" y2="281.7" stroke="#000" stroke-width="1.8"/>
<line x1="115.9" y1="215.0" x2="125.4" y2="215.0" stroke="#000" stroke-width="1.8"/>
<line x1="115.9" y1="148.4" x2="125.4" y2="148.4" stroke="#000" stroke-width="1.8"/>
<line x1="115.9" y1="81.8" x2="125.4" y2="81.8" stroke="#000" stroke-width="1.8"/>
<line x1="225.7" y1="414.9" x2="225.7" y2="405.4" stroke="#000" stroke-width="1.8"/>
<line x1="335.6" y1="414.9" x2="335.6" y2="405.4" stroke="#000" stroke-width="1.8"/>
<line x1="445.4" y1="414.9" x2="445.4" y2="405.4" stroke="#000" stroke-width="1.8"/>
<line x1="679.9" y1="400.8" x2="685.3" y2="400.8" stroke="#666" stroke-width="0.8"/>
<line x1="679.9" y1="387.8" x2="685.3" y2="387.8" stroke="#666" stroke-width="0.8"/>
<line x1="679.9" y1="374.7" x2="685.3" y2="374.7" stroke="#666" stroke-width="0.8"/>
<line x1="679.9" y1="361.6" x2="685.3" y2="361.6" stroke="#666" stroke-width="0.8"/>
<line x1="679.9" y1="335.5" x2="685.3" y2="335.5" stroke="#666" stroke-width="0.8"/>
<line x1="679.9" y1="322.4" x2="685.3" y2="322.4" stroke="#666" stroke-width="0.8"/>
<line x1="679.9" y1="309.4" x2="685.3" y2="309.4" stroke="#666" stroke-width="0.8"/>
<line x1="679.9" y1="296.3" x2="685.3" y2="296.3" stroke="#666" stroke-width="0.8"/>
<line x1="679.9" y1="270.2" x2="685.3" y2="270.2" stroke="#666" stroke-width="0.8"/>
<line x1="679.9" y1="257.1" x2="685.3" y2="257.1" stroke="#666" stroke-width="0.8"/>
<line x1="679.9" y1="244.0" x2="685.3" y2="244.0" stroke="#666" stroke-width="0.8"/>
<line x1="679.9" y1="231.0" x2="685.3" y2="231.0" stroke="#666" stroke-width="0.8"/>
<line x1="679.9" y1="204.8" x2="685.3" y2="204.8" stroke="#666" stroke-width="0.8"/>
<line x1="679.9" y1="191.8" x2="685.3" y2="191.8" stroke="#666" stroke-width="0.8"/>
<line x1="679.9" y1="178.7" x2="685.3" y2="178.7" stroke="#666" stroke-width="0.8"/>
<line x1="679.9" y1="165.6" x2="685.3" y2="165.6" stroke="#666" stroke-width="0.8"/>
<line x1="679.9" y1="139.5" x2="685.3" y2="139.5" stroke="#666" stroke-width="0.8"/>
<line x1="679.9" y1="126.4" x2="685.3" y2="126.4" stroke="#666" stroke-width="0.8"/>
<line x1="679.9" y1="113.4" x2="685.3" y2="113.4" stroke="#666" stroke-width="0.8"/>
<line x1="679.9" y1="100.3" x2="685.3" y2="100.3" stroke="#666" stroke-width="0.8"/>
<line x1="679.9" y1="74.2" x2="685.3" y2="74.2" stroke="#666" stroke-width="0.8"/>
<line x1="679.9" y1="61.1" x2="685.3" y2="61.1" stroke="#666" stroke-width="0.8"/>
<line x1="679.9" y1="48.0" x2="685.3" y2="48.0" stroke="#666" stroke-width="0.8"/>
<line x1="679.9" y1="35.0" x2="685.3" y2="35.0" stroke="#666" stroke-width="0.8"/>
<line x1="708.6" y1="413.9" x2="708.6" y2="408.5" stroke="#666" stroke-width="0.8"/>
<line x1="737.2" y1="413.9" x2="737.2" y2="408.5" stroke="#666" stroke-width="0.8"/>
<line x1="765.9" y1="413.9" x2="765.9" y2="408.5" stroke="#666" stroke-width="0.8"/>
<line x1="794.6" y1="413.9" x2="794.6" y2="408.5" stroke="#666" stroke-width="0.8"/>
<line x1="851.9" y1="413.9" x2="851.9" y2="408.5" stroke="#666" stroke-width="0.8"/>
<line x1="880.6" y1="413.9" x2="880.6" y2="408.5" stroke="#666" stroke-width="0.8"/>
<line x1="909.3" y1="413.9" x2="909.3" y2="408.5" stroke="#666" stroke-width="0.8"/>
<line x1="938.0" y1="413.9" x2="938.0" y2="408.5" stroke="#666" stroke-width="0.8"/>
<line x1="995.3" y1="413.9" x2="995.3" y2="408.5" stroke="#666" stroke-width="0.8"/>
<line x1="1024.0" y1="413.9" x2="1024.0" y2="408.5" stroke="#666" stroke-width="0.8"/>
<line x1="1052.7" y1="413.9" x2="1052.7" y2="408.5" stroke="#666" stroke-width="0.8"/>
<line x1="1081.3" y1="413.9" x2="1081.3" y2="408.5" stroke="#666" stroke-width="0.8"/>
<clipPath id="cr"><rect x="669.9" y="20.9" width="450.1" height="404.0"/></clipPath>
<g clip-path="url(#cr)">
<path d="M679.9,413.9 L679.9,403.8 L679.9,393.8 L679.9,383.7 L679.9,373.7 L679.9,363.6 L679.9,353.6 L679.9,343.5 L679.9,333.5 L679.9,323.4 L679.9,313.4 L679.9,303.3 L679.9,293.3 L679.9,283.2 L680.0,273.1 L680.0,263.1 L680.0,253.0 L680.0,243.0 L680.0,232.9 L680.0,222.9 L680.0,212.8 L680.0,202.8 L680.0,192.7 L680.0,182.7 L680.0,172.6 L680.0,162.6 L680.0,152.5 L680.0,142.4 L680.1,132.4 L680.1,122.3 L680.1,112.3 L680.1,102.2 L680.1,92.2 L680.1,82.1 L680.1,72.1 L680.1,62.0 L680.2,52.0 L680.2,41.9 L680.2,31.9 L680.2,21.8" fill="none" stroke="#2626ff" stroke-width="1.9" stroke-dasharray="7.5 7.5"/>
<path d="M682.4,21.9 L682.5,24.3 L682.7,26.7 L682.8,29.1 L683.0,31.5 L683.1,33.9 L683.3,36.2 L683.5,38.6 L683.6,41.0 L683.8,43.4 L684.0,45.8 L684.1,48.2 L684.3,50.6 L684.4,53.0 L684.6,55.4 L684.7,57.8 L684.8,60.1 L684.9,62.5 L684.9,64.9 L685.0,67.3 L685.0,69.7 L685.0,72.1 L685.0,74.5 L685.0,76.9 L685.1,79.3 L685.1,81.7 L685.1,84.1 L685.1,86.5 L685.1,88.9 L685.1,91.3 L685.1,93.7 L685.1,96.1 L685.1,98.4 L685.1,100.8 L685.1,103.2 L685.1,105.6 L685.1,108.0 L685.2,110.4 L685.2,112.8 L685.2,115.2 L685.2,117.6 L685.2,120.0 L685.2,122.4 L685.3,124.8 L685.3,127.2 L685.3,129.6 L685.4,132.0 L685.4,134.4 L685.5,136.8 L685.5,139.2 L685.6,141.6 L685.7,143.9 L685.7,146.3 L685.8,148.7 L685.9,151.1 L686.0,153.5 L686.0,155.9 L686.1,158.3 L686.2,160.7 L686.3,163.1 L686.4,165.5 L686.5,167.9 L686.6,170.3 L686.8,172.7 L686.9,175.0 L687.0,177.4 L687.2,179.8 L687.4,182.2 L687.5,184.6 L687.7,187.0 L687.9,189.4 L688.1,191.8 L688.2,194.2 L688.4,196.5 L688.6,198.9 L688.8,201.3 L689.0,203.7 L689.2,206.1 L689.4,208.5 L689.6,210.9 L689.7,213.3 L689.9,215.7 L690.1,218.1 L690.3,220.5 L690.6,222.9 L690.8,225.3 L691.0,227.7 L691.3,230.1 L691.5,232.5 L691.8,234.8 L692.1,237.2 L692.4,239.6 L692.7,241.9 L693.1,244.2 L693.5,246.6 L693.9,248.9 L694.4,251.2 L695.0,253.6 L695.6,256.0 L696.3,258.3 L697.0,260.7 L697.8,263.1 L698.6,265.4 L699.5,267.7 L700.4,270.0 L701.3,272.3 L702.3,274.5 L703.3,276.6 L704.3,278.8 L705.4,280.8 L706.5,282.8 L707.6,284.8 L708.7,286.6 L710.1,288.4 L711.5,290.2 L713.1,291.9 L714.7,293.6 L716.4,295.2 L718.2,296.9 L720.0,298.5 L721.9,300.0 L723.9,301.6 L725.8,303.2 L727.7,304.7 L729.7,306.3 L731.6,307.9 L733.5,309.5 L735.3,311.1 L737.1,312.8 L738.9,314.4 L740.5,316.2 L742.2,317.9 L743.8,319.7 L745.4,321.4 L747.0,323.2 L748.6,325.0 L750.2,326.8 L751.7,328.6 L753.3,330.4 L754.9,332.2 L756.4,334.0 L758.0,335.8 L759.6,337.7 L761.2,339.5 L762.8,341.2 L764.4,343.0 L766.0,344.8 L767.6,346.5 L769.3,348.3 L770.9,350.0 L772.6,351.8 L774.2,353.5 L775.9,355.2 L777.5,357.0 L779.2,358.7 L780.9,360.5 L782.5,362.2 L784.2,363.9 L785.9,365.6 L787.6,367.3 L789.3,369.0 L791.1,370.6 L792.8,372.3 L794.6,373.9 L796.4,375.4 L798.2,377.0 L800.0,378.5 L801.8,380.0 L803.7,381.6 L805.5,383.2 L807.4,384.7 L809.3,386.3 L811.2,387.9 L813.1,389.5 L815.1,391.1 L817.0,392.6 L819.0,394.1 L821.0,395.5 L823.0,396.9 L825.0,398.2 L827.1,399.4 L829.2,400.5 L831.2,401.5 L833.3,402.4 L835.5,403.2 L837.6,403.8 L839.8,404.5 L842.0,405.1 L844.3,405.7 L846.6,406.3 L848.9,406.9 L851.3,407.4 L853.6,408.0 L856.0,408.5 L858.4,409.0 L860.8,409.4 L863.2,409.8 L865.6,410.2 L868.1,410.5 L870.5,410.8 L872.9,411.1 L875.3,411.3 L877.7,411.5 L880.1,411.6 L882.5,411.6 L884.9,411.6 L887.3,411.7 L889.7,411.7 L892.1,411.7 L894.4,411.8 L896.8,411.8 L899.2,411.8 L901.6,411.8 L904.0,411.9 L906.4,411.9 L908.8,411.9 L911.2,411.9 L913.6,411.9 L916.0,411.9 L918.4,411.9 L920.8,412.0 L923.2,412.0 L925.6,412.0 L928.0,412.0 L930.4,412.0 L932.8,412.0 L935.2,412.0 L937.6,412.0 L940.0,412.1 L942.4,412.1 L944.8,412.1 L947.2,412.1 L949.6,412.1 L952.0,412.1 L954.4,412.1 L956.8,412.1 L959.1,412.1 L961.5,412.1 L963.9,412.2 L966.3,412.2 L968.7,412.2 L971.1,412.2 L973.5,412.2 L975.9,412.2 L978.3,412.2 L980.7,412.2 L983.1,412.2 L985.5,412.2 L987.9,412.2 L990.3,412.2 L992.7,412.2 L995.1,412.2 L997.5,412.2 L999.9,412.2 L1002.2,412.3 L1004.6,412.3 L1007.0,412.3 L1009.4,412.3 L1011.8,412.3 L1014.2,412.3 L1016.6,412.3 L1019.0,412.3 L1021.4,412.3 L1023.8,412.3 L1026.2,412.3 L1028.6,412.3 L1031.0,412.3 L1033.4,412.3 L1035.8,412.3 L1038.2,412.3 L1040.6,412.3 L1043.0,412.3 L1045.3,412.3 L1047.7,412.3 L1050.1,412.3 L1052.5,412.3 L1054.9,412.3 L1057.3,412.3 L1059.7,412.3 L1062.1,412.3 L1064.5,412.3 L1066.9,412.3 L1069.3,412.3 L1071.7,412.3 L1074.1,412.3 L1076.5,412.3 L1078.9,412.3 L1081.3,412.3 L1083.7,412.3 L1086.1,412.3 L1088.4,412.3 L1090.8,412.3 L1093.2,412.3 L1095.6,412.3 L1098.0,412.3 L1100.4,412.3 L1102.8,412.3 L1105.2,412.3 L1107.6,412.3 L1110.0,412.3" fill="none" stroke="#2626ff" stroke-width="1.9" stroke-dasharray="7.5 7.5"/>
<path d="M674.7,409.8 L685.1,409.8 L679.9,418.8Z" fill="#2626ff"/>
<path d="M677.7,21.5 L687.5,21.5 L682.6,30.0Z" fill="#2626ff"/>
<path d="M680.1,65.5 L689.9,65.5 L685.0,74.0Z" fill="#2626ff"/>
<path d="M680.3,114.3 L690.1,114.3 L685.2,122.8Z" fill="#2626ff"/>
<path d="M681.3,156.8 L691.1,156.8 L686.2,165.3Z" fill="#2626ff"/>
<path d="M684.1,200.0 L693.9,200.0 L689.0,208.5Z" fill="#2626ff"/>
<path d="M688.4,241.7 L698.2,241.7 L693.3,250.2Z" fill="#2626ff"/>
<path d="M702.5,280.7 L712.3,280.7 L707.4,289.2Z" fill="#2626ff"/>
<path d="M734.4,311.1 L744.2,311.1 L739.3,319.6Z" fill="#2626ff"/>
<path d="M764.1,344.2 L773.9,344.2 L769.0,352.7Z" fill="#2626ff"/>
<path d="M795.1,374.7 L804.9,374.7 L800.0,383.2Z" fill="#2626ff"/>
<path d="M831.6,399.7 L841.4,399.7 L836.5,408.2Z" fill="#2626ff"/>
<path d="M876.9,407.8 L886.7,407.8 L881.8,416.3Z" fill="#2626ff"/>
<path d="M924.3,408.2 L934.1,408.2 L929.2,416.7Z" fill="#2626ff"/>
<path d="M975.6,408.4 L985.4,408.4 L980.5,416.9Z" fill="#2626ff"/>
<path d="M1029.4,408.5 L1039.2,408.5 L1034.3,417.0Z" fill="#2626ff"/>
<path d="M1087.9,408.5 L1097.7,408.5 L1092.8,417.0Z" fill="#2626ff"/>
<path d="M679.9,413.9 L679.9,412.1 L679.9,410.3 L679.9,408.5 L679.9,406.7 L680.0,404.9 L680.0,403.1 L680.0,401.3 L680.0,399.5 L680.1,397.7 L680.1,395.9 L680.2,394.1 L680.2,392.3 L680.2,390.5 L680.3,388.7 L680.3,386.9 L680.4,385.1 L680.4,383.3 L680.5,381.5 L680.5,379.7 L680.6,377.9 L680.7,376.1 L680.7,374.3 L680.8,372.5 L680.8,370.7 L680.9,368.9 L680.9,367.1 L681.0,365.3 L681.1,363.5 L681.2,361.7 L681.2,359.9 L681.3,358.1 L681.4,356.3 L681.5,354.5 L681.7,352.7 L681.8,350.9 L681.9,349.1 L682.0,347.4 L682.2,345.6 L682.4,343.8 L682.6,342.0 L682.9,340.2 L683.2,338.4 L683.5,336.7 L683.9,334.9 L684.3,333.1 L684.8,331.4 L685.2,329.7 L685.8,327.9 L686.4,326.1 L687.1,324.5 L688.0,323.0 L689.2,321.6 L690.8,320.5 L692.3,320.6 L694.0,321.3 L695.7,322.2 L697.3,323.1 L698.8,324.0 L700.3,325.0 L701.8,326.0 L703.3,327.0 L704.8,328.0 L706.3,329.0 L707.8,330.0 L709.3,331.1 L710.8,332.1 L712.2,333.1 L713.7,334.2 L715.2,335.2 L716.6,336.2 L718.1,337.3 L719.6,338.3 L721.1,339.2 L722.6,340.2 L724.1,341.2 L725.7,342.2 L727.2,343.1 L728.7,344.1 L730.2,345.1 L731.7,346.0 L733.2,347.0 L734.8,348.0 L736.3,349.0 L737.8,350.0 L739.3,350.9 L740.8,351.9 L742.3,352.9 L743.8,353.9 L745.3,354.9 L746.8,355.9 L748.3,356.9 L749.8,357.9 L751.3,358.8 L752.8,359.8 L754.3,360.8 L755.8,361.8 L757.4,362.7 L758.9,363.7 L760.4,364.7 L761.9,365.6 L763.4,366.6 L765.0,367.6 L766.5,368.5 L768.0,369.5 L769.5,370.4 L771.1,371.3 L772.6,372.3 L774.2,373.2 L775.7,374.1 L777.3,375.0 L778.8,375.9 L780.4,376.8 L781.9,377.7 L783.5,378.6 L785.1,379.5 L786.6,380.4 L788.2,381.3 L789.8,382.2 L791.3,383.1 L792.9,383.9 L794.5,384.8 L796.0,385.7 L797.6,386.6 L799.2,387.5 L800.7,388.4 L802.3,389.3 L803.9,390.2 L805.4,391.1 L807.0,392.0 L808.6,392.8 L810.2,393.7 L811.8,394.5 L813.4,395.3 L815.0,396.0 L816.6,396.7 L818.3,397.5 L819.9,398.2 L821.6,398.9 L823.3,399.6 L825.0,400.3 L826.6,401.0 L828.3,401.6 L830.0,402.2 L831.7,402.8 L833.5,403.4 L835.2,403.9 L836.9,404.3 L838.6,404.7 L840.4,405.1 L842.1,405.4 L843.9,405.8 L845.7,406.1 L847.4,406.4 L849.2,406.7 L851.0,407.0 L852.8,407.2 L854.6,407.4 L856.4,407.7 L858.2,407.8 L860.0,408.0 L861.8,408.1 L863.6,408.3 L865.3,408.4 L867.1,408.5 L868.9,408.6 L870.7,408.7 L872.5,408.8 L874.3,408.9 L876.1,409.0 L877.9,409.1 L879.7,409.2 L881.5,409.3 L883.3,409.3 L885.1,409.4 L886.9,409.5 L888.7,409.6 L890.5,409.7 L892.3,409.7 L894.1,409.8 L895.9,409.9 L897.7,410.0 L899.5,410.0 L901.3,410.1 L903.1,410.2 L904.9,410.3 L906.7,410.3 L908.5,410.4 L910.3,410.5 L912.1,410.6 L913.9,410.6 L915.7,410.7 L917.5,410.7 L919.3,410.8 L921.1,410.9 L922.9,410.9 L924.7,411.0 L926.5,411.0 L928.3,411.1 L930.1,411.1 L931.9,411.1 L933.7,411.2 L935.5,411.2 L937.3,411.2 L939.1,411.2 L940.9,411.2 L942.7,411.3 L944.5,411.3 L946.3,411.3 L948.1,411.3 L949.9,411.3 L951.7,411.3 L953.5,411.3 L955.3,411.4 L957.1,411.4 L958.9,411.4 L960.7,411.4 L962.5,411.4 L964.3,411.4 L966.1,411.4 L967.9,411.4 L969.7,411.4 L971.5,411.5 L973.3,411.5 L975.1,411.5 L976.9,411.5 L978.7,411.5 L980.5,411.5 L982.3,411.5 L984.1,411.5 L985.9,411.5 L987.7,411.5 L989.5,411.5 L991.3,411.5 L993.1,411.5 L994.8,411.5 L996.6,411.5 L998.4,411.5 L1000.2,411.5 L1002.0,411.5 L1003.8,411.5 L1005.6,411.5 L1007.4,411.5 L1009.2,411.5 L1011.0,411.5 L1012.8,411.5 L1014.6,411.5 L1016.4,411.5 L1018.2,411.5 L1020.0,411.5 L1021.8,411.5 L1023.6,411.5 L1025.4,411.6 L1027.2,411.6 L1029.0,411.6 L1030.8,411.6 L1032.6,411.6 L1034.4,411.6 L1036.2,411.6 L1038.0,411.6 L1039.8,411.6 L1041.6,411.6 L1043.4,411.6 L1045.2,411.6 L1047.0,411.6 L1048.8,411.6 L1050.6,411.6 L1052.4,411.6 L1054.2,411.6 L1056.0,411.6 L1057.8,411.6 L1059.6,411.6 L1061.4,411.6 L1063.2,411.6 L1065.0,411.6 L1066.8,411.6 L1068.6,411.6 L1070.4,411.6 L1072.2,411.6 L1074.0,411.6 L1075.8,411.6 L1077.6,411.6 L1079.4,411.6 L1081.2,411.6 L1083.0,411.6 L1084.8,411.6 L1086.6,411.6 L1088.4,411.6 L1090.2,411.6 L1092.0,411.6 L1093.8,411.6 L1095.6,411.6 L1097.4,411.6 L1099.2,411.6 L1101.0,411.6 L1102.8,411.6 L1104.6,411.6 L1106.4,411.6 L1108.2,411.6 L1110.0,411.6" fill="none" stroke="#cc0000" stroke-width="1.9"/>
<circle cx="679.9" cy="413.9" r="4.3" fill="#cc0000"/>
<circle cx="680.8" cy="371.5" r="4.3" fill="#cc0000"/>
<circle cx="685.2" cy="329.8" r="4.3" fill="#cc0000"/>
<circle cx="718.5" cy="337.5" r="4.3" fill="#cc0000"/>
<circle cx="755.9" cy="361.8" r="4.3" fill="#cc0000"/>
<circle cx="795.0" cy="385.5" r="4.3" fill="#cc0000"/>
<circle cx="838.2" cy="404.6" r="4.3" fill="#cc0000"/>
<circle cx="887.0" cy="409.5" r="4.3" fill="#cc0000"/>
<circle cx="937.2" cy="411.2" r="4.3" fill="#cc0000"/>
<circle cx="987.4" cy="411.5" r="4.3" fill="#cc0000"/>
<circle cx="1034.3" cy="411.5" r="4.3" fill="#cc0000"/>
<circle cx="1092.8" cy="411.5" r="4.3" fill="#cc0000"/>
<path d="M681.0,21.8 L681.0,24.2 L681.0,26.7 L681.0,29.1 L681.0,31.6 L681.0,34.0 L681.0,36.4 L681.0,38.9 L681.0,41.3 L681.0,43.8 L681.0,46.2 L681.0,48.6 L681.0,51.1 L681.0,53.5 L681.0,56.0 L681.0,58.4 L681.0,60.9 L681.0,63.3 L681.0,65.7 L681.0,68.2 L681.0,70.6 L681.0,73.1 L681.0,75.5 L681.0,77.9 L681.0,80.4 L681.0,82.8 L681.0,85.3 L681.0,87.7 L681.0,90.1 L681.0,92.6 L681.0,95.0 L681.0,97.5 L681.0,99.9 L681.0,102.3 L681.0,104.8 L681.0,107.2 L681.0,109.7 L681.0,112.1 L681.0,114.5 L681.0,117.0 L681.0,119.4 L681.0,121.9 L681.0,124.3 L681.0,126.7 L681.0,129.2 L681.0,131.6 L681.0,134.1 L681.0,136.5 L681.1,139.0 L681.1,141.4 L681.1,143.8 L681.1,146.3 L681.1,148.7 L681.2,151.2 L681.2,153.6 L681.2,156.0 L681.2,158.5 L681.2,160.9 L681.3,163.4 L681.3,165.8 L681.3,168.2 L681.3,170.7 L681.4,173.1 L681.4,175.6 L681.5,178.0 L681.5,180.4 L681.5,182.9 L681.6,185.3 L681.6,187.8 L681.7,190.2 L681.7,192.6 L681.8,195.1 L681.8,197.5 L681.9,200.0 L682.0,202.4 L682.0,204.8 L682.1,207.3 L682.1,209.7 L682.2,212.2 L682.3,214.6 L682.3,217.0 L682.4,219.5 L682.4,221.9 L682.5,224.4 L682.5,226.8 L682.6,229.3 L682.7,231.7 L682.7,234.2 L682.8,236.6 L682.9,239.1 L683.0,241.5 L683.0,243.9 L683.1,246.4 L683.3,248.8 L683.4,251.2 L683.5,253.6 L683.7,256.1 L683.9,258.5 L684.2,260.9 L684.6,263.3 L685.0,265.7 L685.5,268.2 L686.1,270.5 L686.7,272.9 L687.3,275.3 L687.9,277.6 L688.6,280.0 L689.3,282.3 L690.1,284.7 L691.0,287.0 L692.0,289.3 L693.0,291.5 L694.1,293.6 L695.2,295.7 L696.4,297.7 L697.8,299.6 L699.2,301.6 L700.7,303.5 L702.2,305.3 L703.8,307.2 L705.5,309.0 L707.2,310.8 L709.0,312.5 L710.8,314.3 L712.6,316.0 L714.5,317.7 L716.3,319.4 L718.2,321.0 L720.1,322.7 L721.9,324.3 L723.7,325.9 L725.5,327.6 L727.3,329.2 L729.2,330.7 L731.1,332.3 L733.0,333.8 L734.9,335.3 L736.8,336.8 L738.8,338.2 L740.7,339.7 L742.7,341.2 L744.7,342.6 L746.7,344.1 L748.6,345.5 L750.6,347.0 L752.6,348.4 L754.5,349.9 L756.5,351.4 L758.4,352.9 L760.3,354.4 L762.2,355.9 L764.1,357.4 L766.0,359.0 L767.9,360.6 L769.8,362.2 L771.6,363.7 L773.5,365.3 L775.4,366.9 L777.3,368.5 L779.1,370.1 L781.0,371.6 L782.9,373.2 L784.8,374.7 L786.7,376.2 L788.6,377.7 L790.6,379.2 L792.5,380.6 L794.5,382.0 L796.5,383.4 L798.5,384.7 L800.6,386.2 L802.6,387.6 L804.6,389.1 L806.7,390.6 L808.7,392.0 L810.8,393.5 L812.9,394.9 L815.0,396.3 L817.1,397.6 L819.3,398.9 L821.4,400.1 L823.6,401.2 L825.7,402.3 L827.9,403.2 L830.1,404.1 L832.4,404.8 L834.6,405.3 L836.9,405.8 L839.2,406.3 L841.5,406.7 L843.8,407.2 L846.2,407.6 L848.6,408.0 L851.0,408.4 L853.5,408.8 L855.9,409.1 L858.4,409.4 L860.8,409.8 L863.3,410.0 L865.8,410.3 L868.3,410.5 L870.7,410.7 L873.2,410.9 L875.7,411.1 L878.1,411.2 L880.6,411.3 L883.0,411.4 L885.5,411.4 L887.9,411.5 L890.3,411.5 L892.8,411.6 L895.2,411.6 L897.6,411.7 L900.1,411.7 L902.5,411.8 L905.0,411.8 L907.4,411.8 L909.8,411.8 L912.3,411.9 L914.7,411.9 L917.2,411.9 L919.6,411.9 L922.1,412.0 L924.5,412.0 L926.9,412.0 L929.4,412.0 L931.8,412.0 L934.3,412.0 L936.7,412.0 L939.2,412.0 L941.6,412.0 L944.0,412.0 L946.5,412.0 L948.9,412.1 L951.4,412.1 L953.8,412.1 L956.2,412.1 L958.7,412.1 L961.1,412.1 L963.6,412.1 L966.0,412.1 L968.4,412.1 L970.9,412.1 L973.3,412.1 L975.8,412.1 L978.2,412.1 L980.6,412.1 L983.1,412.2 L985.5,412.2 L988.0,412.2 L990.4,412.2 L992.8,412.2 L995.3,412.2 L997.7,412.2 L1000.2,412.2 L1002.6,412.2 L1005.0,412.2 L1007.5,412.2 L1009.9,412.2 L1012.4,412.2 L1014.8,412.2 L1017.3,412.2 L1019.7,412.2 L1022.1,412.2 L1024.6,412.2 L1027.0,412.2 L1029.5,412.2 L1031.9,412.2 L1034.3,412.2 L1036.8,412.3 L1039.2,412.3 L1041.7,412.3 L1044.1,412.3 L1046.5,412.3 L1049.0,412.3 L1051.4,412.3 L1053.9,412.3 L1056.3,412.3 L1058.7,412.3 L1061.2,412.3 L1063.6,412.3 L1066.1,412.3 L1068.5,412.3 L1070.9,412.3 L1073.4,412.3 L1075.8,412.3 L1078.3,412.3 L1080.7,412.3 L1083.2,412.3 L1085.6,412.3 L1088.0,412.3 L1090.5,412.3 L1092.9,412.3 L1095.4,412.3 L1097.8,412.3 L1100.2,412.3 L1102.7,412.3 L1105.1,412.3 L1107.6,412.3 L1110.0,412.3" fill="none" stroke="#00c800" stroke-width="1.9" stroke-dasharray="11.5 5.5 3 5.5"/>
<path d="M675.8,413.9 L679.9,409.5 L684.0,413.9 L679.9,418.3Z" fill="#00c800"/>
<path d="M675.5,58.4 L679.6,54.0 L683.7,58.4 L679.6,62.8Z" fill="#00c800"/>
<path d="M675.0,120.8 L679.1,116.4 L683.2,120.8 L679.1,125.2Z" fill="#00c800"/>
<path d="M676.1,166.6 L680.2,162.2 L684.3,166.6 L680.2,171.0Z" fill="#00c800"/>
<path d="M678.1,212.2 L682.2,207.8 L686.3,212.2 L682.2,216.6Z" fill="#00c800"/>
<path d="M679.5,255.2 L683.6,250.8 L687.7,255.2 L683.6,259.6Z" fill="#00c800"/>
<path d="M690.8,295.1 L694.9,290.7 L699.0,295.1 L694.9,299.5Z" fill="#00c800"/>
<path d="M720.1,326.4 L724.2,322.0 L728.3,326.4 L724.2,330.8Z" fill="#00c800"/>
<path d="M755.4,353.7 L759.5,349.3 L763.6,353.7 L759.5,358.1Z" fill="#00c800"/>
<path d="M791.9,383.0 L796.0,378.6 L800.1,383.0 L796.0,387.4Z" fill="#00c800"/>
<path d="M830.8,405.4 L834.9,401.0 L839.0,405.4 L834.9,409.8Z" fill="#00c800"/>
<path d="M879.1,411.4 L883.2,407.0 L887.3,411.4 L883.2,415.8Z" fill="#00c800"/>
<path d="M927.5,412.0 L931.6,407.6 L935.7,412.0 L931.6,416.4Z" fill="#00c800"/>
<path d="M975.3,412.2 L979.4,407.8 L983.5,412.2 L979.4,416.6Z" fill="#00c800"/>
<path d="M1030.2,412.3 L1034.3,407.9 L1038.4,412.3 L1034.3,416.7Z" fill="#00c800"/>
<path d="M1088.7,412.3 L1092.8,407.9 L1096.9,412.3 L1092.8,416.7Z" fill="#00c800"/>
<path d="M684.2,21.8 L684.3,24.0 L684.4,26.2 L684.4,28.4 L684.5,30.5 L684.7,32.7 L684.8,34.9 L684.9,37.1 L685.0,39.3 L685.2,41.4 L685.3,43.6 L685.5,45.8 L685.7,48.0 L685.9,50.1 L686.1,52.3 L686.3,54.5 L686.5,56.7 L686.7,58.8 L686.9,61.0 L687.1,63.2 L687.3,65.4 L687.5,67.5 L687.7,69.7 L687.9,71.9 L688.1,74.1 L688.3,76.2 L688.5,78.4 L688.7,80.6 L688.9,82.8 L689.1,84.9 L689.3,87.1 L689.5,89.3 L689.7,91.5 L689.8,93.7 L690.0,95.8 L690.2,98.0 L690.4,100.2 L690.6,102.4 L690.8,104.5 L690.9,106.7 L691.1,108.9 L691.3,111.1 L691.5,113.3 L691.7,115.4 L691.9,117.6 L692.1,119.8 L692.4,121.9 L692.8,124.1 L693.2,126.2 L693.7,128.4 L694.2,130.5 L694.8,132.6 L695.5,134.7 L696.1,136.8 L696.8,138.8 L697.6,140.8 L698.5,142.9 L699.4,144.9 L700.4,146.8 L701.4,148.8 L702.5,150.7 L703.6,152.6 L704.8,154.5 L705.9,156.3 L707.1,158.1 L708.4,159.9 L709.7,161.6 L711.0,163.4 L712.4,165.1 L713.9,166.8 L715.3,168.4 L716.8,170.0 L718.3,171.5 L719.9,173.0 L721.5,174.5 L723.2,175.9 L724.9,177.3 L726.6,178.6 L728.3,180.0 L730.0,181.4 L731.7,182.8 L733.4,184.2 L735.0,185.7 L736.7,187.1 L738.3,188.5 L739.9,190.0 L741.6,191.4 L743.3,192.8 L744.9,194.2 L746.6,195.6 L748.3,196.9 L750.1,198.3 L751.8,199.6 L753.5,200.9 L755.3,202.3 L757.0,203.6 L758.8,204.9 L760.6,206.2 L762.3,207.4 L764.1,208.7 L765.9,210.0 L767.5,211.4 L769.2,212.8 L770.8,214.3 L772.3,215.8 L773.9,217.4 L775.4,218.9 L776.9,220.5 L778.4,222.1 L779.9,223.7 L781.4,225.3 L782.9,226.9 L784.4,228.5 L785.9,230.1 L787.5,231.6 L789.0,233.2 L790.6,234.8 L792.1,236.3 L793.6,237.9 L795.1,239.5 L796.6,241.1 L798.1,242.7 L799.5,244.4 L800.8,246.0 L802.2,247.8 L803.5,249.5 L804.8,251.2 L806.1,253.0 L807.3,254.8 L808.6,256.6 L809.8,258.4 L811.0,260.3 L812.2,262.1 L813.4,263.9 L814.6,265.8 L815.7,267.6 L816.8,269.5 L817.9,271.4 L819.0,273.3 L820.1,275.2 L821.1,277.1 L822.2,279.0 L823.2,281.0 L824.3,282.9 L825.4,284.8 L826.5,286.6 L827.7,288.5 L828.8,290.3 L830.0,292.2 L831.2,294.0 L832.5,295.8 L833.7,297.6 L835.0,299.3 L836.3,301.1 L837.5,302.9 L838.8,304.6 L840.1,306.4 L841.5,308.2 L842.8,309.9 L844.1,311.7 L845.4,313.4 L846.7,315.2 L848.0,316.9 L849.3,318.7 L850.6,320.4 L851.9,322.2 L853.2,323.9 L854.6,325.6 L855.9,327.4 L857.2,329.1 L858.6,330.8 L859.9,332.6 L861.2,334.3 L862.6,336.0 L863.9,337.7 L865.3,339.4 L866.6,341.2 L868.0,342.9 L869.4,344.6 L870.8,346.3 L872.1,347.9 L873.5,349.6 L874.9,351.3 L876.3,353.0 L877.8,354.6 L879.2,356.3 L880.6,357.9 L882.1,359.6 L883.5,361.2 L885.0,362.8 L886.5,364.4 L888.0,366.0 L889.5,367.6 L891.0,369.2 L892.4,370.8 L893.9,372.4 L895.5,374.0 L897.0,375.6 L898.5,377.1 L900.0,378.7 L901.5,380.3 L903.0,381.9 L904.4,383.5 L905.9,385.1 L907.5,386.7 L909.1,388.2 L910.7,389.7 L912.3,391.2 L914.0,392.6 L915.8,393.9 L917.5,395.0 L919.4,396.1 L921.3,397.2 L923.3,398.2 L925.3,399.2 L927.3,400.0 L929.4,400.9 L931.4,401.6 L933.5,402.2 L935.6,402.7 L937.7,403.3 L939.8,403.7 L942.0,404.2 L944.2,404.6 L946.3,404.9 L948.5,405.2 L950.7,405.5 L952.8,405.7 L955.0,406.0 L957.2,406.2 L959.3,406.4 L961.5,406.6 L963.7,406.8 L965.9,407.0 L968.0,407.2 L970.2,407.4 L972.4,407.6 L974.6,407.7 L976.8,407.9 L979.0,408.0 L981.1,408.1 L983.3,408.2 L985.5,408.3 L987.7,408.4 L989.9,408.5 L992.0,408.6 L994.2,408.6 L996.4,408.7 L998.6,408.8 L1000.8,408.8 L1003.0,408.9 L1005.1,409.0 L1007.3,409.0 L1009.5,409.1 L1011.7,409.1 L1013.9,409.2 L1016.0,409.3 L1018.2,409.3 L1020.4,409.4 L1022.6,409.4 L1024.8,409.5 L1027.0,409.5 L1029.1,409.6 L1031.3,409.6 L1033.5,409.7 L1035.7,409.7 L1037.9,409.8 L1040.1,409.8 L1042.2,409.9 L1044.4,409.9 L1046.6,410.0 L1048.8,410.0 L1051.0,410.0 L1053.2,410.1 L1055.3,410.1 L1057.5,410.2 L1059.7,410.2 L1061.9,410.2 L1064.1,410.3 L1066.3,410.3 L1068.4,410.3 L1070.6,410.3 L1072.8,410.4 L1075.0,410.4 L1077.2,410.4 L1079.4,410.4 L1081.6,410.5 L1083.7,410.5 L1085.9,410.5 L1088.1,410.5 L1090.3,410.5 L1092.5,410.5 L1094.7,410.6 L1096.9,410.6 L1099.1,410.6 L1101.2,410.6 L1103.4,410.6 L1105.6,410.6 L1107.8,410.6 L1110.0,410.6" fill="none" stroke="#2626ff" stroke-width="1.6" stroke-dasharray="7.5 7.5"/>
<path d="M681.6,21.8 L681.6,24.1 L681.6,26.3 L681.6,28.6 L681.6,30.8 L681.6,33.1 L681.6,35.4 L681.6,37.6 L681.6,39.9 L681.6,42.2 L681.6,44.4 L681.6,46.7 L681.7,48.9 L681.7,51.2 L681.7,53.5 L681.7,55.7 L681.7,58.0 L681.7,60.3 L681.7,62.5 L681.7,64.8 L681.7,67.0 L681.8,69.3 L681.8,71.6 L681.8,73.8 L681.8,76.1 L681.8,78.3 L681.8,80.6 L681.9,82.9 L681.9,85.1 L681.9,87.4 L681.9,89.6 L681.9,91.9 L681.9,94.2 L682.0,96.4 L682.0,98.7 L682.0,100.9 L682.0,103.2 L682.1,105.5 L682.1,107.7 L682.2,110.0 L682.2,112.3 L682.3,114.5 L682.4,116.8 L682.4,119.0 L682.5,121.3 L682.6,123.6 L682.7,125.8 L682.8,128.1 L682.9,130.3 L683.0,132.6 L683.1,134.9 L683.3,137.1 L683.4,139.4 L683.5,141.6 L683.6,143.9 L683.8,146.2 L683.9,148.4 L684.0,150.7 L684.2,152.9 L684.4,155.2 L684.5,157.4 L684.7,159.7 L684.9,162.0 L685.2,164.2 L685.4,166.5 L685.6,168.7 L685.9,171.0 L686.2,173.2 L686.5,175.5 L686.8,177.7 L687.2,179.9 L687.5,182.2 L687.9,184.4 L688.3,186.6 L688.8,188.8 L689.4,191.0 L690.0,193.1 L690.7,195.3 L691.5,197.5 L692.3,199.6 L693.1,201.7 L693.9,203.8 L694.8,205.9 L695.8,208.0 L696.8,210.1 L697.9,212.0 L699.1,213.9 L700.4,215.6 L701.8,217.3 L703.4,218.9 L705.0,220.5 L706.8,222.0 L708.6,223.5 L710.4,224.9 L712.2,226.3 L714.0,227.7 L715.8,229.0 L717.7,230.2 L719.6,231.4 L721.6,232.5 L723.6,233.7 L725.5,234.8 L727.5,235.9 L729.4,237.1 L731.4,238.3 L733.3,239.5 L735.3,240.6 L737.2,241.8 L739.1,242.9 L741.1,244.1 L743.0,245.3 L744.9,246.4 L746.9,247.6 L748.8,248.8 L750.7,250.1 L752.6,251.3 L754.5,252.5 L756.4,253.7 L758.3,255.0 L760.2,256.2 L762.1,257.5 L764.0,258.8 L765.8,260.1 L767.6,261.4 L769.4,262.8 L771.1,264.2 L772.8,265.7 L774.4,267.3 L776.0,268.9 L777.7,270.5 L779.3,272.1 L780.9,273.7 L782.5,275.3 L784.1,276.9 L785.7,278.5 L787.3,280.0 L789.0,281.5 L790.8,282.9 L792.6,284.2 L794.5,285.5 L796.3,286.9 L798.2,288.2 L800.0,289.6 L801.7,291.0 L803.4,292.5 L805.1,294.0 L806.7,295.6 L808.3,297.2 L809.9,298.8 L811.5,300.4 L813.1,302.0 L814.6,303.6 L816.2,305.3 L817.8,306.9 L819.3,308.5 L820.9,310.2 L822.4,311.8 L823.9,313.5 L825.5,315.2 L827.0,316.8 L828.6,318.5 L830.1,320.1 L831.6,321.8 L833.2,323.5 L834.7,325.1 L836.2,326.8 L837.7,328.5 L839.2,330.2 L840.7,331.9 L842.1,333.7 L843.5,335.5 L844.9,337.3 L846.2,339.1 L847.6,340.9 L848.9,342.7 L850.3,344.5 L851.7,346.2 L853.2,348.0 L854.7,349.6 L856.2,351.3 L857.8,353.0 L859.3,354.6 L860.9,356.2 L862.5,357.9 L864.1,359.5 L865.7,361.1 L867.3,362.7 L868.9,364.3 L870.5,365.8 L872.1,367.4 L873.8,369.0 L875.4,370.5 L877.1,372.0 L878.8,373.5 L880.5,375.0 L882.3,376.4 L884.0,377.8 L885.8,379.3 L887.6,380.7 L889.4,382.0 L891.2,383.4 L893.1,384.7 L894.9,385.9 L896.8,387.1 L898.7,388.3 L900.7,389.5 L902.6,390.7 L904.6,391.8 L906.6,392.9 L908.6,393.9 L910.7,394.9 L912.7,395.8 L914.8,396.7 L916.9,397.5 L919.0,398.3 L921.2,399.0 L923.3,399.8 L925.5,400.5 L927.6,401.1 L929.8,401.8 L932.0,402.4 L934.2,403.0 L936.3,403.6 L938.5,404.2 L940.7,404.8 L942.9,405.3 L945.2,405.7 L947.4,406.1 L949.6,406.4 L951.8,406.7 L954.1,407.0 L956.3,407.3 L958.5,407.6 L960.8,407.8 L963.0,408.1 L965.3,408.3 L967.5,408.5 L969.8,408.7 L972.1,408.9 L974.3,409.1 L976.6,409.3 L978.9,409.5 L981.1,409.6 L983.4,409.7 L985.6,409.8 L987.9,409.9 L990.2,410.0 L992.4,410.1 L994.7,410.1 L996.9,410.2 L999.2,410.3 L1001.4,410.3 L1003.7,410.4 L1006.0,410.5 L1008.2,410.5 L1010.5,410.6 L1012.7,410.7 L1015.0,410.7 L1017.2,410.8 L1019.5,410.8 L1021.8,410.9 L1024.0,410.9 L1026.3,411.0 L1028.5,411.0 L1030.8,411.1 L1033.1,411.1 L1035.3,411.2 L1037.6,411.2 L1039.8,411.3 L1042.1,411.3 L1044.4,411.4 L1046.6,411.4 L1048.9,411.5 L1051.1,411.5 L1053.4,411.5 L1055.7,411.6 L1057.9,411.6 L1060.2,411.6 L1062.4,411.7 L1064.7,411.7 L1067.0,411.7 L1069.2,411.8 L1071.5,411.8 L1073.8,411.8 L1076.0,411.8 L1078.3,411.9 L1080.5,411.9 L1082.8,411.9 L1085.1,411.9 L1087.3,411.9 L1089.6,411.9 L1091.9,412.0 L1094.1,412.0 L1096.4,412.0 L1098.7,412.0 L1100.9,412.0 L1103.2,412.0 L1105.5,412.0 L1107.7,412.0 L1110.0,412.0" fill="none" stroke="#00c800" stroke-width="1.6" stroke-dasharray="13 5 3 5"/>
<path d="M679.9,413.9 L679.9,411.9 L679.9,409.8 L680.0,407.8 L680.0,405.8 L680.0,403.7 L680.1,401.7 L680.1,399.6 L680.1,397.6 L680.2,395.6 L680.2,393.5 L680.2,391.5 L680.3,389.5 L680.3,387.4 L680.4,385.4 L680.4,383.4 L680.5,381.3 L680.5,379.3 L680.6,377.3 L680.6,375.2 L680.7,373.2 L680.7,371.1 L680.8,369.1 L680.8,367.1 L680.9,365.0 L680.9,363.0 L681.0,361.0 L681.0,358.9 L681.1,356.9 L681.1,354.9 L681.2,352.8 L681.2,350.8 L681.3,348.7 L681.4,346.7 L681.4,344.7 L681.5,342.6 L681.5,340.6 L681.6,338.6 L681.7,336.5 L681.8,334.5 L681.8,332.4 L681.9,330.4 L682.0,328.4 L682.1,326.3 L682.2,324.3 L682.3,322.3 L682.4,320.2 L682.5,318.2 L682.6,316.2 L682.7,314.2 L682.9,312.1 L683.0,310.1 L683.2,308.1 L683.4,306.1 L683.6,304.0 L684.0,302.0 L684.3,300.0 L684.6,298.0 L685.0,296.0 L685.4,294.0 L685.8,292.0 L686.2,290.0 L686.7,288.0 L687.2,286.0 L687.8,284.0 L688.4,282.1 L689.1,280.2 L689.8,278.3 L690.6,276.3 L691.5,274.4 L692.5,272.5 L693.6,270.7 L694.8,269.3 L696.1,268.0 L697.7,266.9 L699.5,265.9 L701.5,264.9 L703.5,264.2 L705.4,263.6 L707.3,263.1 L709.3,262.7 L711.3,262.2 L713.3,261.8 L715.4,261.5 L717.4,261.2 L719.5,261.0 L721.5,260.9 L723.5,260.8 L725.5,260.8 L727.6,261.0 L729.6,261.2 L731.7,261.5 L733.7,261.8 L735.7,262.2 L737.7,262.6 L739.7,263.0 L741.6,263.5 L743.5,264.1 L745.4,264.8 L747.3,265.6 L749.2,266.4 L751.1,267.3 L752.9,268.2 L754.8,269.1 L756.6,270.0 L758.4,270.9 L760.2,271.9 L762.0,272.8 L763.8,273.8 L765.6,274.8 L767.4,275.8 L769.1,276.9 L770.8,278.0 L772.5,279.1 L774.2,280.3 L775.8,281.5 L777.4,282.8 L779.0,284.0 L780.6,285.3 L782.2,286.6 L783.8,287.8 L785.4,289.1 L786.9,290.4 L788.5,291.7 L790.1,292.9 L791.7,294.2 L793.3,295.5 L794.8,296.8 L796.4,298.1 L798.0,299.4 L799.6,300.7 L801.2,302.0 L802.7,303.2 L804.3,304.5 L805.9,305.8 L807.5,307.1 L809.1,308.4 L810.6,309.7 L812.2,311.0 L813.8,312.3 L815.3,313.6 L816.9,314.9 L818.5,316.2 L820.0,317.5 L821.6,318.8 L823.1,320.1 L824.6,321.5 L826.2,322.8 L827.7,324.2 L829.2,325.5 L830.8,326.9 L832.3,328.2 L833.8,329.6 L835.3,330.9 L836.8,332.3 L838.4,333.6 L839.9,335.0 L841.4,336.3 L843.0,337.6 L844.5,339.0 L846.0,340.3 L847.6,341.6 L849.1,343.0 L850.7,344.3 L852.2,345.6 L853.8,346.9 L855.3,348.3 L856.9,349.6 L858.4,350.9 L860.0,352.2 L861.5,353.5 L863.1,354.9 L864.6,356.2 L866.2,357.5 L867.7,358.9 L869.3,360.2 L870.8,361.5 L872.4,362.9 L873.9,364.2 L875.5,365.4 L877.1,366.7 L878.7,368.0 L880.3,369.2 L881.9,370.4 L883.6,371.5 L885.3,372.7 L887.0,373.8 L888.7,375.0 L890.4,376.1 L892.1,377.2 L893.8,378.3 L895.5,379.4 L897.3,380.4 L899.0,381.5 L900.8,382.5 L902.5,383.6 L904.3,384.6 L906.0,385.7 L907.8,386.7 L909.6,387.7 L911.3,388.7 L913.1,389.6 L915.0,390.6 L916.8,391.5 L918.6,392.3 L920.5,393.1 L922.3,394.0 L924.2,394.8 L926.1,395.5 L928.0,396.3 L929.9,397.0 L931.8,397.7 L933.8,398.3 L935.7,398.9 L937.7,399.4 L939.6,400.0 L941.6,400.5 L943.6,400.9 L945.6,401.4 L947.6,401.9 L949.6,402.3 L951.6,402.7 L953.5,403.2 L955.5,403.6 L957.5,404.0 L959.5,404.4 L961.5,404.7 L963.6,405.1 L965.6,405.3 L967.6,405.6 L969.6,405.8 L971.6,406.1 L973.6,406.3 L975.7,406.5 L977.7,406.7 L979.7,406.9 L981.8,407.1 L983.8,407.2 L985.8,407.4 L987.9,407.5 L989.9,407.6 L991.9,407.7 L994.0,407.8 L996.0,407.9 L998.0,408.0 L1000.1,408.1 L1002.1,408.2 L1004.1,408.3 L1006.2,408.4 L1008.2,408.4 L1010.2,408.5 L1012.3,408.6 L1014.3,408.6 L1016.3,408.7 L1018.4,408.8 L1020.4,408.8 L1022.4,408.9 L1024.5,408.9 L1026.5,409.0 L1028.6,409.0 L1030.6,409.1 L1032.6,409.1 L1034.7,409.1 L1036.7,409.2 L1038.7,409.2 L1040.8,409.2 L1042.8,409.3 L1044.8,409.3 L1046.9,409.3 L1048.9,409.4 L1051.0,409.4 L1053.0,409.4 L1055.0,409.5 L1057.1,409.5 L1059.1,409.5 L1061.1,409.6 L1063.2,409.6 L1065.2,409.6 L1067.2,409.7 L1069.3,409.7 L1071.3,409.7 L1073.3,409.7 L1075.4,409.8 L1077.4,409.8 L1079.5,409.8 L1081.5,409.8 L1083.5,409.9 L1085.6,409.9 L1087.6,409.9 L1089.6,409.9 L1091.7,409.9 L1093.7,409.9 L1095.7,410.0 L1097.8,410.0 L1099.8,410.0 L1101.9,410.0 L1103.9,410.0 L1105.9,410.0 L1108.0,410.0 L1110.0,410.0" fill="none" stroke="#cc0000" stroke-width="1.7"/>
</g>
<path d="M689.4,21.9 L679.9,21.9 L679.9,413.9 L1110.0,413.9 L1110.0,404.4" fill="none" stroke="#000" stroke-width="2" stroke-linejoin="miter"/>
<line x1="679.9" y1="348.6" x2="689.4" y2="348.6" stroke="#000" stroke-width="1.8"/>
<line x1="679.9" y1="283.2" x2="689.4" y2="283.2" stroke="#000" stroke-width="1.8"/>
<line x1="679.9" y1="217.9" x2="689.4" y2="217.9" stroke="#000" stroke-width="1.8"/>
<line x1="679.9" y1="152.6" x2="689.4" y2="152.6" stroke="#000" stroke-width="1.8"/>
<line x1="679.9" y1="87.2" x2="689.4" y2="87.2" stroke="#000" stroke-width="1.8"/>
<line x1="823.3" y1="413.9" x2="823.3" y2="404.4" stroke="#000" stroke-width="1.8"/>
<line x1="966.6" y1="413.9" x2="966.6" y2="404.4" stroke="#000" stroke-width="1.8"/>
<text x="105.2" y="24.4" font-family="Liberation Serif, serif" font-size="25" text-anchor="end">0.30</text>
<text x="669" y="24.4" font-family="Liberation Serif, serif" font-size="25" text-anchor="end">0.30</text>
<text x="105.2" y="90.6" font-family="Liberation Serif, serif" font-size="25" text-anchor="end">0.25</text>
<text x="669" y="90.6" font-family="Liberation Serif, serif" font-size="25" text-anchor="end">0.25</text>
<text x="105.2" y="157.2" font-family="Liberation Serif, serif" font-size="25" text-anchor="end">0.20</text>
<text x="669" y="157.2" font-family="Liberation Serif, serif" font-size="25" text-anchor="end">0.20</text>
<text x="105.2" y="223.9" font-family="Liberation Serif, serif" font-size="25" text-anchor="end">0.15</text>
<text x="669" y="223.9" font-family="Liberation Serif, serif" font-size="25" text-anchor="end">0.15</text>
<text x="105.2" y="290.4" font-family="Liberation Serif, serif" font-size="25" text-anchor="end">0.10</text>
<text x="669" y="290.4" font-family="Liberation Serif, serif" font-size="25" text-anchor="end">0.10</text>
<text x="105.2" y="357.2" font-family="Liberation Serif, serif" font-size="25" text-anchor="end">0.05</text>
<text x="669" y="357.2" font-family="Liberation Serif, serif" font-size="25" text-anchor="end">0.05</text>
<text x="99.4" y="442.8" font-family="Liberation Serif, serif" font-size="25" text-anchor="middle">0</text>
<text x="224.9" y="442.8" font-family="Liberation Serif, serif" font-size="25" text-anchor="middle">0.5</text>
<text x="336.9" y="442.8" font-family="Liberation Serif, serif" font-size="25" text-anchor="middle">1.0</text>
<text x="446.5" y="442.8" font-family="Liberation Serif, serif" font-size="25" text-anchor="middle">1.5</text>
<text x="556" y="442.8" font-family="Liberation Serif, serif" font-size="25" text-anchor="middle">2.0</text>
<text x="663.3" y="442.8" font-family="Liberation Serif, serif" font-size="25" text-anchor="middle">0</text>
<text x="822.1" y="442.8" font-family="Liberation Serif, serif" font-size="25" text-anchor="middle">500</text>
<text x="966.6" y="442.8" font-family="Liberation Serif, serif" font-size="25" text-anchor="middle">1000</text>
<text x="1085.5" y="442.8" font-family="Liberation Serif, serif" font-size="25">1500</text>
<text x="7.7" y="24.8" font-family="Liberation Serif, serif" font-size="30">(</text><text transform="translate(17.3,25.2) scale(1.1,1)" font-family="Liberation Serif, serif" font-style="italic" font-size="32">a</text><text x="33.6" y="24.8" font-family="Liberation Serif, serif" font-size="30">)</text>
<text x="575.1" y="24.8" font-family="Liberation Serif, serif" font-size="30">(</text><text transform="translate(585.0,25.2) scale(1.08,1)" font-family="Liberation Serif, serif" font-style="italic" font-size="30">b</text><text x="601" y="24.8" font-family="Liberation Serif, serif" font-size="30">)</text>
<text x="281.6" y="481.8" font-family="Liberation Serif, serif" font-style="italic" font-size="30">y</text><text transform="translate(295.6,487.5) scale(1.15,1)" font-family="Liberation Serif, serif" font-size="39">/</text><text x="308.3" y="481.8" font-family="Liberation Serif, serif" font-style="italic" font-size="28">δ</text><text x="321.3" y="486.8" font-family="Liberation Serif, serif" font-size="20">0</text>
<text x="889.3" y="481.8" font-family="Liberation Serif, serif" font-style="italic" font-size="30">y</text><text x="902.6" y="474.8" font-family="Liberation Serif, serif" font-size="27">+</text>
<g transform="translate(36.0,361.5) rotate(-90)"><text transform="translate(-1.8,0.0) scale(1.18,1)" font-family="Liberation Serif, serif" font-style="italic" font-size="28">u</text><text x="13.0" y="-1.0" font-family="Liberation Serif, serif" font-size="27">′</text><text x="13.4" y="8.4" font-family="Liberation Serif, serif" font-style="italic" font-size="20" letter-spacing="1.2">rms</text><text transform="translate(43.9,5.2) scale(1.22,1)" font-family="Liberation Serif, serif" font-size="36">/</text><text transform="translate(51.5,1.5) scale(1.25,1)" font-family="Liberation Serif, serif" font-size="25">⟨</text><text transform="translate(61.6,0.0) scale(1.1,1)" font-family="Liberation Serif, serif" font-style="italic" font-size="27">u</text><text transform="translate(72.7,1.5) scale(1.25,1)" font-family="Liberation Serif, serif" font-size="25">⟩</text><text transform="translate(80.6,0.0) scale(1.3,1)" font-family="Liberation Serif, serif" font-size="31">,</text><text transform="translate(96.3,0.0) scale(1.1,1)" font-family="Liberation Serif, serif" font-style="italic" font-size="28">v</text><text x="110.3" y="-1.0" font-family="Liberation Serif, serif" font-size="27">′</text><text x="110.8" y="8.4" font-family="Liberation Serif, serif" font-style="italic" font-size="20" letter-spacing="1.2">rms</text><text transform="translate(139.6,5.2) scale(1.22,1)" font-family="Liberation Serif, serif" font-size="36">/</text><text transform="translate(150.3,1.5) scale(1.25,1)" font-family="Liberation Serif, serif" font-size="25">⟨</text><text transform="translate(159.7,0.0) scale(1.1,1)" font-family="Liberation Serif, serif" font-style="italic" font-size="28">u</text><text transform="translate(172.9,1.5) scale(1.25,1)" font-family="Liberation Serif, serif" font-size="25">⟩</text><text transform="translate(184.6,0.0) scale(1.3,1)" font-family="Liberation Serif, serif" font-size="31">,</text><text x="199.0" y="0.0" font-family="Liberation Serif, serif" font-style="italic" font-size="28">w</text><text x="218.6" y="-1.0" font-family="Liberation Serif, serif" font-size="27">′</text><text x="219.2" y="8.4" font-family="Liberation Serif, serif" font-style="italic" font-size="20" letter-spacing="1.2">rms</text><text transform="translate(250.4,5.2) scale(1.22,1)" font-family="Liberation Serif, serif" font-size="36">/</text><text transform="translate(259.4,1.5) scale(1.25,1)" font-family="Liberation Serif, serif" font-size="25">⟨</text><text x="269.6" y="0.0" font-family="Liberation Serif, serif" font-style="italic" font-size="25">w</text><text transform="translate(284.3,1.5) scale(1.25,1)" font-family="Liberation Serif, serif" font-size="25">⟩</text></g>
<line x1="237.8" y1="47.5" x2="312.7" y2="47.5" stroke="#2626ff" stroke-width="2.1" stroke-dasharray="6.4 6"/>
<path d="M270.4,44.5 L280.2,44.5 L275.3,53.0Z" fill="#2626ff"/>
<text x="323.3" y="52.4" font-family="Liberation Serif, serif" font-style="italic" font-size="19">u</text><text x="332.5" y="51.9" font-family="Liberation Serif, serif" font-size="19">′</text><text x="332.2" y="57.4" font-family="Liberation Serif, serif" font-style="italic" font-size="12.3" letter-spacing="0.4">rms</text><text transform="translate(351.2,56.7) scale(1.12,1)" font-family="Liberation Serif, serif" font-size="23">/</text><text x="358.0" y="52.4" font-family="Liberation Serif, serif" font-size="17">⟨</text><text x="364.3" y="52.4" font-family="Liberation Serif, serif" font-style="italic" font-size="18">u</text><text x="373.0" y="52.4" font-family="Liberation Serif, serif" font-size="17">⟩</text><text x="381.3" y="52.4" font-family="Liberation Serif, serif" font-size="18.8">of flat plate</text>
<line x1="237.8" y1="67.8" x2="312.7" y2="67.8" stroke="#cc0000" stroke-width="2.1"/>
<circle cx="275.3" cy="67.8" r="4.4" fill="#cc0000"/>
<text x="322.8" y="72.7" font-family="Liberation Serif, serif" font-style="italic" font-size="19">v</text><text x="330.8" y="72.2" font-family="Liberation Serif, serif" font-size="19">′</text><text x="330.5" y="77.7" font-family="Liberation Serif, serif" font-style="italic" font-size="12.3" letter-spacing="0.4">rms</text><text transform="translate(349.5,77.0) scale(1.12,1)" font-family="Liberation Serif, serif" font-size="23">/</text><text x="356.3" y="72.7" font-family="Liberation Serif, serif" font-size="17">⟨</text><text x="362.6" y="72.7" font-family="Liberation Serif, serif" font-style="italic" font-size="18">u</text><text x="371.3" y="72.7" font-family="Liberation Serif, serif" font-size="17">⟩</text><text x="379.6" y="72.7" font-family="Liberation Serif, serif" font-size="18.8">of flat plate</text>
<line x1="237.8" y1="87.7" x2="312.7" y2="87.7" stroke="#00c800" stroke-width="2.1" stroke-dasharray="10 3.5 2 3.4"/>
<path d="M270.40000000000003,87.7 L275.3,83.8 L280.2,87.7 L275.3,91.60000000000001Z" fill="#00c800"/>
<text x="322.6" y="92.6" font-family="Liberation Serif, serif" font-style="italic" font-size="19">w</text><text x="334.1" y="92.1" font-family="Liberation Serif, serif" font-size="19">′</text><text x="333.8" y="97.6" font-family="Liberation Serif, serif" font-style="italic" font-size="12.3" letter-spacing="0.4">rms</text><text transform="translate(352.9,96.9) scale(1.12,1)" font-family="Liberation Serif, serif" font-size="23">/</text><text x="359.7" y="92.6" font-family="Liberation Serif, serif" font-size="17">⟨</text><text x="366.0" y="92.6" font-family="Liberation Serif, serif" font-style="italic" font-size="18">u</text><text x="374.7" y="92.6" font-family="Liberation Serif, serif" font-size="17">⟩</text><text x="387.2" y="92.6" font-family="Liberation Serif, serif" font-size="18.8">of flat plate</text>
<line x1="237.8" y1="107.6" x2="312.7" y2="107.6" stroke="#2626ff" stroke-width="2.1" stroke-dasharray="6.4 6"/>
<text x="323.3" y="112.5" font-family="Liberation Serif, serif" font-style="italic" font-size="19">u</text><text x="332.5" y="112.0" font-family="Liberation Serif, serif" font-size="19">′</text><text x="332.2" y="117.5" font-family="Liberation Serif, serif" font-style="italic" font-size="12.3" letter-spacing="0.4">rms</text><text transform="translate(351.2,116.8) scale(1.12,1)" font-family="Liberation Serif, serif" font-size="23">/</text><text x="358.0" y="112.5" font-family="Liberation Serif, serif" font-size="17">⟨</text><text x="364.3" y="112.5" font-family="Liberation Serif, serif" font-style="italic" font-size="18">u</text><text x="373.0" y="112.5" font-family="Liberation Serif, serif" font-size="17">⟩</text><text x="381.3" y="112.5" font-family="Liberation Serif, serif" font-size="18.8">of CurvR308 mm</text>
<line x1="237.8" y1="127.3" x2="312.7" y2="127.3" stroke="#cc0000" stroke-width="2.1"/>
<text x="322.8" y="132.2" font-family="Liberation Serif, serif" font-style="italic" font-size="19">v</text><text x="330.8" y="131.7" font-family="Liberation Serif, serif" font-size="19">′</text><text x="330.5" y="137.2" font-family="Liberation Serif, serif" font-style="italic" font-size="12.3" letter-spacing="0.4">rms</text><text transform="translate(349.5,136.5) scale(1.12,1)" font-family="Liberation Serif, serif" font-size="23">/</text><text x="356.3" y="132.2" font-family="Liberation Serif, serif" font-size="17">⟨</text><text x="362.6" y="132.2" font-family="Liberation Serif, serif" font-style="italic" font-size="18">u</text><text x="371.3" y="132.2" font-family="Liberation Serif, serif" font-size="17">⟩</text><text x="379.6" y="132.2" font-family="Liberation Serif, serif" font-size="18.8">of CurvR308 mm</text>
<line x1="237.8" y1="147.4" x2="312.7" y2="147.4" stroke="#00c800" stroke-width="2.1" stroke-dasharray="10 3.5 2 3.4"/>
<text x="322.6" y="152.3" font-family="Liberation Serif, serif" font-style="italic" font-size="19">w</text><text x="334.1" y="151.8" font-family="Liberation Serif, serif" font-size="19">′</text><text x="333.8" y="157.3" font-family="Liberation Serif, serif" font-style="italic" font-size="12.3" letter-spacing="0.4">rms</text><text transform="translate(352.9,156.6) scale(1.12,1)" font-family="Liberation Serif, serif" font-size="23">/</text><text x="359.7" y="152.3" font-family="Liberation Serif, serif" font-size="17">⟨</text><text x="366.0" y="152.3" font-family="Liberation Serif, serif" font-style="italic" font-size="18">u</text><text x="374.7" y="152.3" font-family="Liberation Serif, serif" font-size="17">⟩</text><text x="387.2" y="152.3" font-family="Liberation Serif, serif" font-size="18.8">of CurvR308 mm</text>
</svg>
</body></html>
